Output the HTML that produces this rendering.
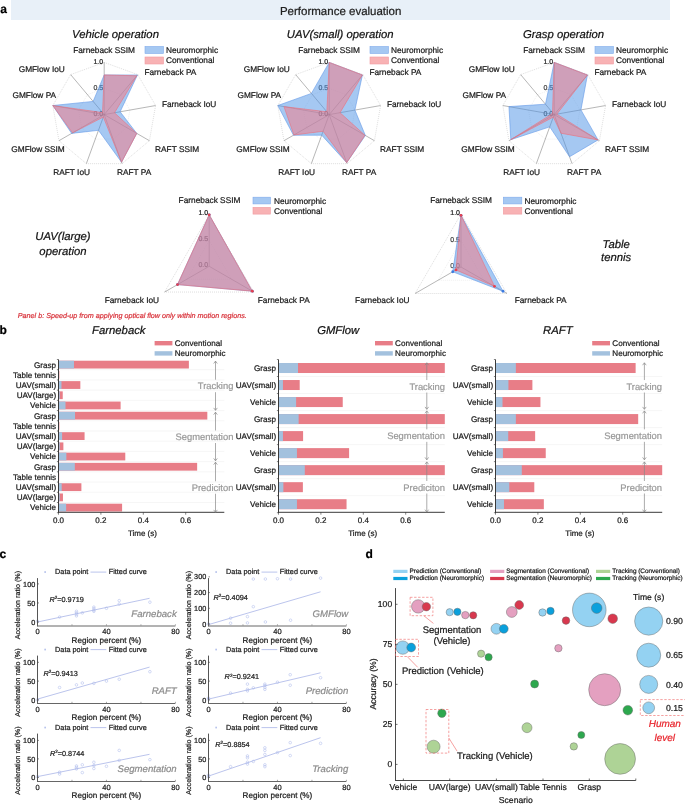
<!DOCTYPE html>
<html><head><meta charset="utf-8"><style>
html,body{margin:0;padding:0;background:#fff;}
svg{display:block;font-family:"Liberation Sans", sans-serif;will-change:transform;-webkit-font-smoothing:antialiased;text-rendering:geometricPrecision;}
</style></head><body>
<svg width="685" height="804" viewBox="0 0 685 804">
<rect x="11.00" y="0.00" width="659.00" height="20.00" fill="#E8F0F8" />
<text x="0.20" y="12.60" font-size="12" text-anchor="start" fill="#000" stroke="#000" stroke-width="0.22" font-weight="bold" >a</text>
<text x="340.70" y="14.50" font-size="11.5" text-anchor="middle" fill="#222" stroke="#222" stroke-width="0.22" >Performance evaluation</text>
<text x="115.50" y="37.50" font-size="11.3" text-anchor="middle" fill="#111" stroke="#111" stroke-width="0.22" font-style="italic" >Vehicle operation</text>
<polygon points="104.20,62.40 137.75,74.61 155.61,105.54 149.41,140.70 122.05,163.65 86.35,163.65 58.99,140.70 52.79,105.54 70.65,74.61" fill="none" stroke="#c8c8c8" stroke-width="0.6" stroke-dasharray="1,1"/>
<polygon points="104.20,88.50 120.98,94.61 129.90,110.07 126.80,127.65 113.13,139.13 95.27,139.13 81.60,127.65 78.50,110.07 87.42,94.61" fill="none" stroke="#dcdcdc" stroke-width="0.5" stroke-dasharray="1,1"/>
<line x1="104.20" y1="114.60" x2="104.20" y2="62.40" stroke="#6e6e6e" stroke-width="0.5" />
<line x1="104.20" y1="114.60" x2="137.75" y2="74.61" stroke="#6e6e6e" stroke-width="0.5" />
<line x1="104.20" y1="114.60" x2="155.61" y2="105.54" stroke="#6e6e6e" stroke-width="0.5" />
<line x1="104.20" y1="114.60" x2="149.41" y2="140.70" stroke="#6e6e6e" stroke-width="0.5" />
<line x1="104.20" y1="114.60" x2="122.05" y2="163.65" stroke="#6e6e6e" stroke-width="0.5" />
<line x1="104.20" y1="114.60" x2="86.35" y2="163.65" stroke="#6e6e6e" stroke-width="0.5" />
<line x1="104.20" y1="114.60" x2="58.99" y2="140.70" stroke="#6e6e6e" stroke-width="0.5" />
<line x1="104.20" y1="114.60" x2="52.79" y2="105.54" stroke="#6e6e6e" stroke-width="0.5" />
<line x1="104.20" y1="114.60" x2="70.65" y2="74.61" stroke="#6e6e6e" stroke-width="0.5" />
<text x="103.20" y="64.20" font-size="7" text-anchor="end" fill="#222" stroke="#222" stroke-width="0.22" >1.0</text>
<text x="103.20" y="90.30" font-size="7" text-anchor="end" fill="#444" stroke="#444" stroke-width="0.22" >0.5</text>
<text x="103.20" y="116.40" font-size="7" text-anchor="end" fill="#555" stroke="#555" stroke-width="0.22" >0.0</text>
<polygon points="104.20,74.93 137.42,75.01 120.14,111.79 136.75,133.39 121.52,162.18 98.49,130.30 71.65,133.39 52.79,105.54 93.13,101.40" fill="rgba(75,145,229,0.5)" stroke="#6398E8" stroke-width="0.6" stroke-linejoin="miter"/>
<polygon points="104.20,74.93 136.75,75.81 114.48,112.79 136.75,133.39 121.52,162.18 103.31,117.05 72.56,132.87 52.79,105.54 102.52,112.60" fill="rgba(250,120,130,0.5)" stroke="#EC6F7A" stroke-width="0.6" stroke-linejoin="miter"/>
<text x="104.10" y="52.60" font-size="8.3" text-anchor="middle" fill="#1a1a1a" stroke="#1a1a1a" stroke-width="0.22" >Farneback SSIM</text>
<text x="144.40" y="75.20" font-size="8.3" text-anchor="start" fill="#1a1a1a" stroke="#1a1a1a" stroke-width="0.22" >Farneback PA</text>
<text x="161.90" y="107.10" font-size="8.3" text-anchor="start" fill="#1a1a1a" stroke="#1a1a1a" stroke-width="0.22" >Farneback IoU</text>
<text x="155.10" y="152.40" font-size="8.3" text-anchor="start" fill="#1a1a1a" stroke="#1a1a1a" stroke-width="0.22" >RAFT SSIM</text>
<text x="116.90" y="175.30" font-size="8.3" text-anchor="start" fill="#1a1a1a" stroke="#1a1a1a" stroke-width="0.22" >RAFT PA</text>
<text x="90.00" y="175.30" font-size="8.3" text-anchor="end" fill="#1a1a1a" stroke="#1a1a1a" stroke-width="0.22" >RAFT IoU</text>
<text x="64.80" y="152.40" font-size="8.3" text-anchor="end" fill="#1a1a1a" stroke="#1a1a1a" stroke-width="0.22" >GMFlow SSIM</text>
<text x="56.10" y="98.00" font-size="8.3" text-anchor="end" fill="#1a1a1a" stroke="#1a1a1a" stroke-width="0.22" >GMFlow PA</text>
<text x="64.80" y="72.00" font-size="8.3" text-anchor="end" fill="#1a1a1a" stroke="#1a1a1a" stroke-width="0.22" >GMFlow IoU</text>
<rect x="145.00" y="46.50" width="18.50" height="7.00" fill="#A5C8F2" stroke="#7FAAEC" stroke-width="0.6"/>
<rect x="145.00" y="57.00" width="18.50" height="7.00" fill="#F8B2B4" stroke="#F09AA0" stroke-width="0.6"/>
<text x="166.00" y="52.80" font-size="8.3" text-anchor="start" fill="#1a1a1a" stroke="#1a1a1a" stroke-width="0.22" >Neuromorphic</text>
<text x="166.00" y="63.30" font-size="8.3" text-anchor="start" fill="#1a1a1a" stroke="#1a1a1a" stroke-width="0.22" >Conventional</text>
<text x="340.20" y="37.50" font-size="11.3" text-anchor="middle" fill="#111" stroke="#111" stroke-width="0.22" font-style="italic" >UAV(small) operation</text>
<polygon points="329.20,62.40 362.75,74.61 380.61,105.54 374.41,140.70 347.05,163.65 311.35,163.65 283.99,140.70 277.79,105.54 295.65,74.61" fill="none" stroke="#c8c8c8" stroke-width="0.6" stroke-dasharray="1,1"/>
<polygon points="329.20,88.50 345.98,94.61 354.90,110.07 351.80,127.65 338.13,139.13 320.27,139.13 306.60,127.65 303.50,110.07 312.42,94.61" fill="none" stroke="#dcdcdc" stroke-width="0.5" stroke-dasharray="1,1"/>
<line x1="329.20" y1="114.60" x2="329.20" y2="62.40" stroke="#6e6e6e" stroke-width="0.5" />
<line x1="329.20" y1="114.60" x2="362.75" y2="74.61" stroke="#6e6e6e" stroke-width="0.5" />
<line x1="329.20" y1="114.60" x2="380.61" y2="105.54" stroke="#6e6e6e" stroke-width="0.5" />
<line x1="329.20" y1="114.60" x2="374.41" y2="140.70" stroke="#6e6e6e" stroke-width="0.5" />
<line x1="329.20" y1="114.60" x2="347.05" y2="163.65" stroke="#6e6e6e" stroke-width="0.5" />
<line x1="329.20" y1="114.60" x2="311.35" y2="163.65" stroke="#6e6e6e" stroke-width="0.5" />
<line x1="329.20" y1="114.60" x2="283.99" y2="140.70" stroke="#6e6e6e" stroke-width="0.5" />
<line x1="329.20" y1="114.60" x2="277.79" y2="105.54" stroke="#6e6e6e" stroke-width="0.5" />
<line x1="329.20" y1="114.60" x2="295.65" y2="74.61" stroke="#6e6e6e" stroke-width="0.5" />
<text x="328.20" y="64.20" font-size="7" text-anchor="end" fill="#222" stroke="#222" stroke-width="0.22" >1.0</text>
<text x="328.20" y="90.30" font-size="7" text-anchor="end" fill="#444" stroke="#444" stroke-width="0.22" >0.5</text>
<text x="328.20" y="116.40" font-size="7" text-anchor="end" fill="#555" stroke="#555" stroke-width="0.22" >0.0</text>
<polygon points="329.20,62.40 362.42,75.01 354.90,110.07 365.37,135.48 346.70,162.67 321.70,135.20 293.49,135.22 277.79,105.54 311.42,93.41" fill="rgba(75,145,229,0.5)" stroke="#6398E8" stroke-width="0.6" stroke-linejoin="miter"/>
<polygon points="329.20,62.40 362.42,75.01 340.00,112.70 364.91,135.22 346.70,162.67 323.13,131.28 293.94,134.96 283.96,106.62 326.85,111.80" fill="rgba(250,120,130,0.5)" stroke="#EC6F7A" stroke-width="0.6" stroke-linejoin="miter"/>
<text x="329.10" y="52.60" font-size="8.3" text-anchor="middle" fill="#1a1a1a" stroke="#1a1a1a" stroke-width="0.22" >Farneback SSIM</text>
<text x="369.40" y="75.20" font-size="8.3" text-anchor="start" fill="#1a1a1a" stroke="#1a1a1a" stroke-width="0.22" >Farneback PA</text>
<text x="386.90" y="107.10" font-size="8.3" text-anchor="start" fill="#1a1a1a" stroke="#1a1a1a" stroke-width="0.22" >Farneback IoU</text>
<text x="380.10" y="152.40" font-size="8.3" text-anchor="start" fill="#1a1a1a" stroke="#1a1a1a" stroke-width="0.22" >RAFT SSIM</text>
<text x="341.90" y="175.30" font-size="8.3" text-anchor="start" fill="#1a1a1a" stroke="#1a1a1a" stroke-width="0.22" >RAFT PA</text>
<text x="315.00" y="175.30" font-size="8.3" text-anchor="end" fill="#1a1a1a" stroke="#1a1a1a" stroke-width="0.22" >RAFT IoU</text>
<text x="289.80" y="152.40" font-size="8.3" text-anchor="end" fill="#1a1a1a" stroke="#1a1a1a" stroke-width="0.22" >GMFlow SSIM</text>
<text x="281.10" y="98.00" font-size="8.3" text-anchor="end" fill="#1a1a1a" stroke="#1a1a1a" stroke-width="0.22" >GMFlow PA</text>
<text x="289.80" y="72.00" font-size="8.3" text-anchor="end" fill="#1a1a1a" stroke="#1a1a1a" stroke-width="0.22" >GMFlow IoU</text>
<rect x="370.00" y="46.50" width="18.50" height="7.00" fill="#A5C8F2" stroke="#7FAAEC" stroke-width="0.6"/>
<rect x="370.00" y="57.00" width="18.50" height="7.00" fill="#F8B2B4" stroke="#F09AA0" stroke-width="0.6"/>
<text x="391.00" y="52.80" font-size="8.3" text-anchor="start" fill="#1a1a1a" stroke="#1a1a1a" stroke-width="0.22" >Neuromorphic</text>
<text x="391.00" y="63.30" font-size="8.3" text-anchor="start" fill="#1a1a1a" stroke="#1a1a1a" stroke-width="0.22" >Conventional</text>
<text x="563.50" y="37.50" font-size="11.3" text-anchor="middle" fill="#111" stroke="#111" stroke-width="0.22" font-style="italic" >Grasp operation</text>
<polygon points="554.20,62.40 587.75,74.61 605.61,105.54 599.41,140.70 572.05,163.65 536.35,163.65 508.99,140.70 502.79,105.54 520.65,74.61" fill="none" stroke="#c8c8c8" stroke-width="0.6" stroke-dasharray="1,1"/>
<polygon points="554.20,88.50 570.98,94.61 579.90,110.07 576.80,127.65 563.13,139.13 545.27,139.13 531.60,127.65 528.50,110.07 537.42,94.61" fill="none" stroke="#dcdcdc" stroke-width="0.5" stroke-dasharray="1,1"/>
<line x1="554.20" y1="114.60" x2="554.20" y2="62.40" stroke="#6e6e6e" stroke-width="0.5" />
<line x1="554.20" y1="114.60" x2="587.75" y2="74.61" stroke="#6e6e6e" stroke-width="0.5" />
<line x1="554.20" y1="114.60" x2="605.61" y2="105.54" stroke="#6e6e6e" stroke-width="0.5" />
<line x1="554.20" y1="114.60" x2="599.41" y2="140.70" stroke="#6e6e6e" stroke-width="0.5" />
<line x1="554.20" y1="114.60" x2="572.05" y2="163.65" stroke="#6e6e6e" stroke-width="0.5" />
<line x1="554.20" y1="114.60" x2="536.35" y2="163.65" stroke="#6e6e6e" stroke-width="0.5" />
<line x1="554.20" y1="114.60" x2="508.99" y2="140.70" stroke="#6e6e6e" stroke-width="0.5" />
<line x1="554.20" y1="114.60" x2="502.79" y2="105.54" stroke="#6e6e6e" stroke-width="0.5" />
<line x1="554.20" y1="114.60" x2="520.65" y2="74.61" stroke="#6e6e6e" stroke-width="0.5" />
<text x="553.20" y="64.20" font-size="7" text-anchor="end" fill="#222" stroke="#222" stroke-width="0.22" >1.0</text>
<text x="553.20" y="90.30" font-size="7" text-anchor="end" fill="#444" stroke="#444" stroke-width="0.22" >0.5</text>
<text x="553.20" y="116.40" font-size="7" text-anchor="end" fill="#555" stroke="#555" stroke-width="0.22" >0.0</text>
<polygon points="554.20,62.40 587.42,75.01 580.93,109.89 598.05,139.92 569.55,156.78 549.74,126.86 510.80,139.66 508.96,106.62 545.48,104.20" fill="rgba(75,145,229,0.5)" stroke="#6398E8" stroke-width="0.6" stroke-linejoin="miter"/>
<polygon points="554.20,62.40 587.42,75.01 556.77,114.15 598.05,139.92 560.98,133.24 553.31,117.05 510.80,139.66 551.63,114.15 552.52,112.60" fill="rgba(250,120,130,0.5)" stroke="#EC6F7A" stroke-width="0.6" stroke-linejoin="miter"/>
<text x="554.10" y="52.60" font-size="8.3" text-anchor="middle" fill="#1a1a1a" stroke="#1a1a1a" stroke-width="0.22" >Farneback SSIM</text>
<text x="594.40" y="75.20" font-size="8.3" text-anchor="start" fill="#1a1a1a" stroke="#1a1a1a" stroke-width="0.22" >Farneback PA</text>
<text x="611.90" y="107.10" font-size="8.3" text-anchor="start" fill="#1a1a1a" stroke="#1a1a1a" stroke-width="0.22" >Farneback IoU</text>
<text x="605.10" y="152.40" font-size="8.3" text-anchor="start" fill="#1a1a1a" stroke="#1a1a1a" stroke-width="0.22" >RAFT SSIM</text>
<text x="566.90" y="175.30" font-size="8.3" text-anchor="start" fill="#1a1a1a" stroke="#1a1a1a" stroke-width="0.22" >RAFT PA</text>
<text x="540.00" y="175.30" font-size="8.3" text-anchor="end" fill="#1a1a1a" stroke="#1a1a1a" stroke-width="0.22" >RAFT IoU</text>
<text x="514.80" y="152.40" font-size="8.3" text-anchor="end" fill="#1a1a1a" stroke="#1a1a1a" stroke-width="0.22" >GMFlow SSIM</text>
<text x="506.10" y="98.00" font-size="8.3" text-anchor="end" fill="#1a1a1a" stroke="#1a1a1a" stroke-width="0.22" >GMFlow PA</text>
<text x="514.80" y="72.00" font-size="8.3" text-anchor="end" fill="#1a1a1a" stroke="#1a1a1a" stroke-width="0.22" >GMFlow IoU</text>
<rect x="595.00" y="46.50" width="18.50" height="7.00" fill="#A5C8F2" stroke="#7FAAEC" stroke-width="0.6"/>
<rect x="595.00" y="57.00" width="18.50" height="7.00" fill="#F8B2B4" stroke="#F09AA0" stroke-width="0.6"/>
<text x="616.00" y="52.80" font-size="8.3" text-anchor="start" fill="#1a1a1a" stroke="#1a1a1a" stroke-width="0.22" >Neuromorphic</text>
<text x="616.00" y="63.30" font-size="8.3" text-anchor="start" fill="#1a1a1a" stroke="#1a1a1a" stroke-width="0.22" >Conventional</text>
<polygon points="209.20,214.80 253.80,292.05 164.60,292.05" fill="none" stroke="#c8c8c8" stroke-width="0.6" stroke-dasharray="1,1"/>
<polygon points="209.20,240.55 231.50,279.18 186.90,279.18" fill="none" stroke="#dcdcdc" stroke-width="0.5" stroke-dasharray="1,1"/>
<line x1="209.20" y1="266.30" x2="209.20" y2="214.80" stroke="#6e6e6e" stroke-width="0.5" />
<line x1="209.20" y1="266.30" x2="253.80" y2="292.05" stroke="#6e6e6e" stroke-width="0.5" />
<line x1="209.20" y1="266.30" x2="164.60" y2="292.05" stroke="#6e6e6e" stroke-width="0.5" />
<text x="208.20" y="215.40" font-size="7" text-anchor="end" fill="#222" stroke="#222" stroke-width="0.22" >1.0</text>
<text x="208.20" y="241.15" font-size="7" text-anchor="end" fill="#444" stroke="#444" stroke-width="0.22" >0.5</text>
<text x="208.20" y="266.90" font-size="7" text-anchor="end" fill="#555" stroke="#555" stroke-width="0.22" >0.0</text>
<polygon points="209.20,214.80 252.28,291.17 177.53,284.58" fill="rgba(75,145,229,0.5)" stroke="#6398E8" stroke-width="0.6" stroke-linejoin="miter"/>
<polygon points="209.20,214.80 252.28,291.17 177.53,284.58" fill="rgba(250,120,130,0.5)" stroke="#EC6F7A" stroke-width="0.6" stroke-linejoin="miter"/>
<circle cx="209.20" cy="214.80" r="1.4" fill="#3D7BE0"/>
<circle cx="252.28" cy="291.17" r="1.4" fill="#3D7BE0"/>
<circle cx="177.53" cy="284.58" r="1.4" fill="#3D7BE0"/>
<circle cx="209.20" cy="214.80" r="1.4" fill="#E8404E"/>
<circle cx="252.28" cy="291.17" r="1.4" fill="#E8404E"/>
<circle cx="177.53" cy="284.58" r="1.4" fill="#E8404E"/>
<text x="209.50" y="202.70" font-size="8.3" text-anchor="middle" fill="#1a1a1a" stroke="#1a1a1a" stroke-width="0.22" >Farneback SSIM</text>
<text x="257.80" y="302.80" font-size="8.3" text-anchor="start" fill="#1a1a1a" stroke="#1a1a1a" stroke-width="0.22" >Farneback PA</text>
<text x="159.10" y="302.80" font-size="8.3" text-anchor="end" fill="#1a1a1a" stroke="#1a1a1a" stroke-width="0.22" >Farneback IoU</text>
<rect x="253.00" y="197.20" width="17.40" height="6.70" fill="#A5C8F2" stroke="#7FAAEC" stroke-width="0.6"/>
<rect x="253.00" y="207.40" width="17.40" height="6.70" fill="#F8B2B4" stroke="#F09AA0" stroke-width="0.6"/>
<text x="274.00" y="203.50" font-size="8.3" text-anchor="start" fill="#1a1a1a" stroke="#1a1a1a" stroke-width="0.22" >Neuromorphic</text>
<text x="274.00" y="213.70" font-size="8.3" text-anchor="start" fill="#1a1a1a" stroke="#1a1a1a" stroke-width="0.22" >Conventional</text>
<text x="62.90" y="240.40" font-size="11.3" text-anchor="middle" fill="#111" stroke="#111" stroke-width="0.22" font-style="italic" >UAV(large)</text>
<text x="62.90" y="254.50" font-size="11.3" text-anchor="middle" fill="#111" stroke="#111" stroke-width="0.22" font-style="italic" >operation</text>
<polygon points="461.00,214.00 506.90,293.50 415.10,293.50" fill="none" stroke="#c8c8c8" stroke-width="0.6" stroke-dasharray="1,1"/>
<polygon points="461.00,240.50 483.95,280.25 438.05,280.25" fill="none" stroke="#dcdcdc" stroke-width="0.5" stroke-dasharray="1,1"/>
<line x1="461.00" y1="267.00" x2="461.00" y2="214.00" stroke="#6e6e6e" stroke-width="0.5" />
<line x1="461.00" y1="267.00" x2="506.90" y2="293.50" stroke="#6e6e6e" stroke-width="0.5" />
<line x1="461.00" y1="267.00" x2="415.10" y2="293.50" stroke="#6e6e6e" stroke-width="0.5" />
<text x="460.00" y="215.00" font-size="7" text-anchor="end" fill="#222" stroke="#222" stroke-width="0.22" >1.0</text>
<text x="460.00" y="241.50" font-size="7" text-anchor="end" fill="#444" stroke="#444" stroke-width="0.22" >0.5</text>
<text x="460.00" y="268.00" font-size="7" text-anchor="end" fill="#555" stroke="#555" stroke-width="0.22" >0.0</text>
<polygon points="461.00,215.32 503.00,291.25 452.74,271.77" fill="rgba(75,145,229,0.5)" stroke="#6398E8" stroke-width="0.6" stroke-linejoin="miter"/>
<polygon points="461.00,215.32 494.51,286.34 455.95,269.92" fill="rgba(250,120,130,0.5)" stroke="#EC6F7A" stroke-width="0.6" stroke-linejoin="miter"/>
<circle cx="461.00" cy="215.32" r="1.4" fill="#3D7BE0"/>
<circle cx="503.00" cy="291.25" r="1.4" fill="#3D7BE0"/>
<circle cx="452.74" cy="271.77" r="1.4" fill="#3D7BE0"/>
<circle cx="461.00" cy="215.32" r="1.4" fill="#E8404E"/>
<circle cx="494.51" cy="286.34" r="1.4" fill="#E8404E"/>
<circle cx="455.95" cy="269.92" r="1.4" fill="#E8404E"/>
<text x="461.10" y="202.70" font-size="8.3" text-anchor="middle" fill="#1a1a1a" stroke="#1a1a1a" stroke-width="0.22" >Farneback SSIM</text>
<text x="514.70" y="302.80" font-size="8.3" text-anchor="start" fill="#1a1a1a" stroke="#1a1a1a" stroke-width="0.22" >Farneback PA</text>
<text x="409.50" y="302.80" font-size="8.3" text-anchor="end" fill="#1a1a1a" stroke="#1a1a1a" stroke-width="0.22" >Farneback IoU</text>
<rect x="503.40" y="197.20" width="18.40" height="6.70" fill="#A5C8F2" stroke="#7FAAEC" stroke-width="0.6"/>
<rect x="503.40" y="207.40" width="18.40" height="6.70" fill="#F8B2B4" stroke="#F09AA0" stroke-width="0.6"/>
<text x="524.40" y="203.50" font-size="8.3" text-anchor="start" fill="#1a1a1a" stroke="#1a1a1a" stroke-width="0.22" >Neuromorphic</text>
<text x="524.40" y="213.70" font-size="8.3" text-anchor="start" fill="#1a1a1a" stroke="#1a1a1a" stroke-width="0.22" >Conventional</text>
<text x="616.20" y="247.60" font-size="11.3" text-anchor="middle" fill="#111" stroke="#111" stroke-width="0.22" font-style="italic" >Table</text>
<text x="616.20" y="261.20" font-size="11.3" text-anchor="middle" fill="#111" stroke="#111" stroke-width="0.22" font-style="italic" >tennis</text>
<text x="17.80" y="318.20" font-size="7.2" text-anchor="start" fill="#D9363E" stroke="#D9363E" stroke-width="0.22" font-style="italic" >Panel b: Speed-up from applying optical flow only within motion regions.</text>
<text x="-0.60" y="334.40" font-size="12" text-anchor="start" fill="#000" stroke="#000" stroke-width="0.22" font-weight="bold" >b</text>
<text x="118.80" y="334.20" font-size="11.3" text-anchor="middle" fill="#111" stroke="#111" stroke-width="0.22" font-style="italic" >Farneback</text>
<rect x="154.60" y="341.00" width="17.80" height="4.40" fill="#E87D87" />
<rect x="154.60" y="351.20" width="17.80" height="4.40" fill="#A3C1DE" />
<text x="174.70" y="345.90" font-size="8.1" text-anchor="start" fill="#1a1a1a" stroke="#1a1a1a" stroke-width="0.22" >Conventional</text>
<text x="174.70" y="356.10" font-size="8.1" text-anchor="start" fill="#1a1a1a" stroke="#1a1a1a" stroke-width="0.22" >Neuromorphic</text>
<line x1="58.50" y1="369.71" x2="224.30" y2="369.71" stroke="#f0f0f0" stroke-width="0.6" />
<line x1="58.50" y1="379.93" x2="224.30" y2="379.93" stroke="#f0f0f0" stroke-width="0.6" />
<line x1="58.50" y1="390.14" x2="224.30" y2="390.14" stroke="#f0f0f0" stroke-width="0.6" />
<line x1="58.50" y1="400.35" x2="224.30" y2="400.35" stroke="#f0f0f0" stroke-width="0.6" />
<line x1="58.50" y1="410.57" x2="224.30" y2="410.57" stroke="#f0f0f0" stroke-width="0.6" />
<line x1="58.50" y1="420.78" x2="224.30" y2="420.78" stroke="#f0f0f0" stroke-width="0.6" />
<line x1="58.50" y1="430.99" x2="224.30" y2="430.99" stroke="#f0f0f0" stroke-width="0.6" />
<line x1="58.50" y1="441.21" x2="224.30" y2="441.21" stroke="#f0f0f0" stroke-width="0.6" />
<line x1="58.50" y1="451.42" x2="224.30" y2="451.42" stroke="#f0f0f0" stroke-width="0.6" />
<line x1="58.50" y1="461.63" x2="224.30" y2="461.63" stroke="#f0f0f0" stroke-width="0.6" />
<line x1="58.50" y1="471.85" x2="224.30" y2="471.85" stroke="#f0f0f0" stroke-width="0.6" />
<line x1="58.50" y1="482.06" x2="224.30" y2="482.06" stroke="#f0f0f0" stroke-width="0.6" />
<line x1="58.50" y1="492.27" x2="224.30" y2="492.27" stroke="#f0f0f0" stroke-width="0.6" />
<line x1="58.50" y1="502.49" x2="224.30" y2="502.49" stroke="#f0f0f0" stroke-width="0.6" />
<text x="56.10" y="367.51" font-size="8.1" text-anchor="end" fill="#1a1a1a" stroke="#1a1a1a" stroke-width="0.22" >Grasp</text>
<rect x="58.50" y="360.71" width="130.38" height="7.80" fill="#E87D87" />
<rect x="58.50" y="360.71" width="15.48" height="7.80" fill="#A3C1DE" />
<line x1="56.90" y1="359.50" x2="58.50" y2="359.50" stroke="#333" stroke-width="0.6" />
<text x="56.10" y="377.72" font-size="8.1" text-anchor="end" fill="#1a1a1a" stroke="#1a1a1a" stroke-width="0.22" >Table tennis</text>
<rect x="58.50" y="370.92" width="0.85" height="7.80" fill="#E87D87" />
<line x1="56.90" y1="369.71" x2="58.50" y2="369.71" stroke="#333" stroke-width="0.6" />
<text x="56.10" y="387.93" font-size="8.1" text-anchor="end" fill="#1a1a1a" stroke="#1a1a1a" stroke-width="0.22" >UAV(small)</text>
<rect x="58.50" y="381.13" width="21.84" height="7.80" fill="#E87D87" />
<rect x="58.50" y="381.13" width="2.97" height="7.80" fill="#A3C1DE" />
<line x1="56.90" y1="379.93" x2="58.50" y2="379.93" stroke="#333" stroke-width="0.6" />
<text x="56.10" y="398.15" font-size="8.1" text-anchor="end" fill="#1a1a1a" stroke="#1a1a1a" stroke-width="0.22" >UAV(large)</text>
<rect x="58.50" y="391.35" width="4.24" height="7.80" fill="#E87D87" />
<rect x="58.50" y="391.35" width="1.27" height="7.80" fill="#A3C1DE" />
<line x1="56.90" y1="390.14" x2="58.50" y2="390.14" stroke="#333" stroke-width="0.6" />
<text x="56.10" y="408.36" font-size="8.1" text-anchor="end" fill="#1a1a1a" stroke="#1a1a1a" stroke-width="0.22" >Vehicle</text>
<rect x="58.50" y="401.56" width="62.12" height="7.80" fill="#E87D87" />
<rect x="58.50" y="401.56" width="7.00" height="7.80" fill="#A3C1DE" />
<line x1="56.90" y1="400.35" x2="58.50" y2="400.35" stroke="#333" stroke-width="0.6" />
<text x="56.10" y="418.57" font-size="8.1" text-anchor="end" fill="#1a1a1a" stroke="#1a1a1a" stroke-width="0.22" >Grasp</text>
<rect x="58.50" y="411.77" width="148.82" height="7.80" fill="#E87D87" />
<rect x="58.50" y="411.77" width="16.54" height="7.80" fill="#A3C1DE" />
<line x1="56.90" y1="410.57" x2="58.50" y2="410.57" stroke="#333" stroke-width="0.6" />
<text x="56.10" y="428.79" font-size="8.1" text-anchor="end" fill="#1a1a1a" stroke="#1a1a1a" stroke-width="0.22" >Table tennis</text>
<rect x="58.50" y="421.99" width="0.85" height="7.80" fill="#E87D87" />
<line x1="56.90" y1="420.78" x2="58.50" y2="420.78" stroke="#333" stroke-width="0.6" />
<text x="56.10" y="439.00" font-size="8.1" text-anchor="end" fill="#1a1a1a" stroke="#1a1a1a" stroke-width="0.22" >UAV(small)</text>
<rect x="58.50" y="432.20" width="26.08" height="7.80" fill="#E87D87" />
<rect x="58.50" y="432.20" width="3.60" height="7.80" fill="#A3C1DE" />
<line x1="56.90" y1="430.99" x2="58.50" y2="430.99" stroke="#333" stroke-width="0.6" />
<text x="56.10" y="449.21" font-size="8.1" text-anchor="end" fill="#1a1a1a" stroke="#1a1a1a" stroke-width="0.22" >UAV(large)</text>
<rect x="58.50" y="442.41" width="4.88" height="7.80" fill="#E87D87" />
<rect x="58.50" y="442.41" width="1.27" height="7.80" fill="#A3C1DE" />
<line x1="56.90" y1="441.21" x2="58.50" y2="441.21" stroke="#333" stroke-width="0.6" />
<text x="56.10" y="459.43" font-size="8.1" text-anchor="end" fill="#1a1a1a" stroke="#1a1a1a" stroke-width="0.22" >Vehicle</text>
<rect x="58.50" y="452.63" width="66.78" height="7.80" fill="#E87D87" />
<rect x="58.50" y="452.63" width="7.84" height="7.80" fill="#A3C1DE" />
<line x1="56.90" y1="451.42" x2="58.50" y2="451.42" stroke="#333" stroke-width="0.6" />
<text x="56.10" y="469.64" font-size="8.1" text-anchor="end" fill="#1a1a1a" stroke="#1a1a1a" stroke-width="0.22" >Grasp</text>
<rect x="58.50" y="462.84" width="138.65" height="7.80" fill="#E87D87" />
<rect x="58.50" y="462.84" width="16.32" height="7.80" fill="#A3C1DE" />
<line x1="56.90" y1="461.63" x2="58.50" y2="461.63" stroke="#333" stroke-width="0.6" />
<text x="56.10" y="479.85" font-size="8.1" text-anchor="end" fill="#1a1a1a" stroke="#1a1a1a" stroke-width="0.22" >Table tennis</text>
<rect x="58.50" y="473.05" width="0.64" height="7.80" fill="#E87D87" />
<line x1="56.90" y1="471.85" x2="58.50" y2="471.85" stroke="#333" stroke-width="0.6" />
<text x="56.10" y="490.07" font-size="8.1" text-anchor="end" fill="#1a1a1a" stroke="#1a1a1a" stroke-width="0.22" >UAV(small)</text>
<rect x="58.50" y="483.27" width="22.90" height="7.80" fill="#E87D87" />
<rect x="58.50" y="483.27" width="3.18" height="7.80" fill="#A3C1DE" />
<line x1="56.90" y1="482.06" x2="58.50" y2="482.06" stroke="#333" stroke-width="0.6" />
<text x="56.10" y="500.28" font-size="8.1" text-anchor="end" fill="#1a1a1a" stroke="#1a1a1a" stroke-width="0.22" >UAV(large)</text>
<rect x="58.50" y="493.48" width="4.45" height="7.80" fill="#E87D87" />
<rect x="58.50" y="493.48" width="1.27" height="7.80" fill="#A3C1DE" />
<line x1="56.90" y1="492.27" x2="58.50" y2="492.27" stroke="#333" stroke-width="0.6" />
<text x="56.10" y="510.49" font-size="8.1" text-anchor="end" fill="#1a1a1a" stroke="#1a1a1a" stroke-width="0.22" >Vehicle</text>
<rect x="58.50" y="503.69" width="63.60" height="7.80" fill="#E87D87" />
<rect x="58.50" y="503.69" width="7.63" height="7.80" fill="#A3C1DE" />
<line x1="56.90" y1="502.49" x2="58.50" y2="502.49" stroke="#333" stroke-width="0.6" />
<line x1="56.90" y1="512.70" x2="58.50" y2="512.70" stroke="#333" stroke-width="0.6" />
<line x1="58.50" y1="359.50" x2="58.50" y2="512.80" stroke="#3a3a3a" stroke-width="1.0" />
<line x1="58.00" y1="512.30" x2="224.30" y2="512.30" stroke="#3a3a3a" stroke-width="1.0" />
<line x1="58.50" y1="512.30" x2="58.50" y2="514.70" stroke="#333" stroke-width="0.6" />
<text x="58.50" y="522.60" font-size="8" text-anchor="middle" fill="#1a1a1a" stroke="#1a1a1a" stroke-width="0.22" >0.0</text>
<line x1="100.90" y1="512.30" x2="100.90" y2="514.70" stroke="#333" stroke-width="0.6" />
<text x="100.90" y="522.60" font-size="8" text-anchor="middle" fill="#1a1a1a" stroke="#1a1a1a" stroke-width="0.22" >0.2</text>
<line x1="143.30" y1="512.30" x2="143.30" y2="514.70" stroke="#333" stroke-width="0.6" />
<text x="143.30" y="522.60" font-size="8" text-anchor="middle" fill="#1a1a1a" stroke="#1a1a1a" stroke-width="0.22" >0.4</text>
<line x1="185.70" y1="512.30" x2="185.70" y2="514.70" stroke="#333" stroke-width="0.6" />
<text x="185.70" y="522.60" font-size="8" text-anchor="middle" fill="#1a1a1a" stroke="#1a1a1a" stroke-width="0.22" >0.6</text>
<text x="142.40" y="535.50" font-size="8" text-anchor="middle" fill="#1a1a1a" stroke="#1a1a1a" stroke-width="0.22" >Time (s)</text>
<line x1="215.50" y1="361.10" x2="215.50" y2="379.70" stroke="#888" stroke-width="0.7" />
<line x1="215.50" y1="392.20" x2="215.50" y2="410.30" stroke="#888" stroke-width="0.7" />
<polyline points="213.70,363.50 215.50,361.10 217.30,363.50" fill="none" stroke="#888" stroke-width="0.7"/>
<polyline points="213.70,407.90 215.50,410.30 217.30,407.90" fill="none" stroke="#888" stroke-width="0.7"/>
<text x="233.40" y="389.40" font-size="9.4" text-anchor="end" fill="#9a9a9a" stroke="#9a9a9a" stroke-width="0.22" >Tracking</text>
<line x1="215.50" y1="412.20" x2="215.50" y2="430.50" stroke="#888" stroke-width="0.7" />
<line x1="215.50" y1="443.00" x2="215.50" y2="460.80" stroke="#888" stroke-width="0.7" />
<polyline points="213.70,414.60 215.50,412.20 217.30,414.60" fill="none" stroke="#888" stroke-width="0.7"/>
<polyline points="213.70,458.40 215.50,460.80 217.30,458.40" fill="none" stroke="#888" stroke-width="0.7"/>
<text x="233.40" y="440.20" font-size="9.4" text-anchor="end" fill="#9a9a9a" stroke="#9a9a9a" stroke-width="0.22" >Segmentation</text>
<line x1="215.50" y1="462.20" x2="215.50" y2="481.25" stroke="#888" stroke-width="0.7" />
<line x1="215.50" y1="493.75" x2="215.50" y2="512.30" stroke="#888" stroke-width="0.7" />
<polyline points="213.70,464.60 215.50,462.20 217.30,464.60" fill="none" stroke="#888" stroke-width="0.7"/>
<polyline points="213.70,509.90 215.50,512.30 217.30,509.90" fill="none" stroke="#888" stroke-width="0.7"/>
<text x="233.40" y="490.95" font-size="9.4" text-anchor="end" fill="#9a9a9a" stroke="#9a9a9a" stroke-width="0.22" >Prediciton</text>
<text x="338.20" y="334.20" font-size="11.3" text-anchor="middle" fill="#111" stroke="#111" stroke-width="0.22" font-style="italic" >GMFlow</text>
<rect x="375.00" y="341.00" width="17.80" height="4.40" fill="#E87D87" />
<rect x="375.00" y="351.20" width="17.80" height="4.40" fill="#A3C1DE" />
<text x="395.10" y="345.90" font-size="8.1" text-anchor="start" fill="#1a1a1a" stroke="#1a1a1a" stroke-width="0.22" >Conventional</text>
<text x="395.10" y="356.10" font-size="8.1" text-anchor="start" fill="#1a1a1a" stroke="#1a1a1a" stroke-width="0.22" >Neuromorphic</text>
<line x1="278.50" y1="376.52" x2="444.80" y2="376.52" stroke="#f0f0f0" stroke-width="0.6" />
<line x1="278.50" y1="393.54" x2="444.80" y2="393.54" stroke="#f0f0f0" stroke-width="0.6" />
<line x1="278.50" y1="410.57" x2="444.80" y2="410.57" stroke="#f0f0f0" stroke-width="0.6" />
<line x1="278.50" y1="427.59" x2="444.80" y2="427.59" stroke="#f0f0f0" stroke-width="0.6" />
<line x1="278.50" y1="444.61" x2="444.80" y2="444.61" stroke="#f0f0f0" stroke-width="0.6" />
<line x1="278.50" y1="461.63" x2="444.80" y2="461.63" stroke="#f0f0f0" stroke-width="0.6" />
<line x1="278.50" y1="478.66" x2="444.80" y2="478.66" stroke="#f0f0f0" stroke-width="0.6" />
<line x1="278.50" y1="495.68" x2="444.80" y2="495.68" stroke="#f0f0f0" stroke-width="0.6" />
<text x="276.10" y="370.91" font-size="8.1" text-anchor="end" fill="#1a1a1a" stroke="#1a1a1a" stroke-width="0.22" >Grasp</text>
<rect x="278.50" y="363.01" width="166.30" height="10.00" fill="#E87D87" />
<rect x="278.50" y="363.01" width="19.50" height="10.00" fill="#A3C1DE" />
<line x1="276.90" y1="359.50" x2="278.50" y2="359.50" stroke="#333" stroke-width="0.6" />
<text x="276.10" y="387.93" font-size="8.1" text-anchor="end" fill="#1a1a1a" stroke="#1a1a1a" stroke-width="0.22" >UAV(small)</text>
<rect x="278.50" y="380.03" width="21.20" height="10.00" fill="#E87D87" />
<rect x="278.50" y="380.03" width="4.45" height="10.00" fill="#A3C1DE" />
<line x1="276.90" y1="376.52" x2="278.50" y2="376.52" stroke="#333" stroke-width="0.6" />
<text x="276.10" y="404.96" font-size="8.1" text-anchor="end" fill="#1a1a1a" stroke="#1a1a1a" stroke-width="0.22" >Vehicle</text>
<rect x="278.50" y="397.06" width="64.24" height="10.00" fill="#E87D87" />
<rect x="278.50" y="397.06" width="17.60" height="10.00" fill="#A3C1DE" />
<line x1="276.90" y1="393.54" x2="278.50" y2="393.54" stroke="#333" stroke-width="0.6" />
<text x="276.10" y="421.98" font-size="8.1" text-anchor="end" fill="#1a1a1a" stroke="#1a1a1a" stroke-width="0.22" >Grasp</text>
<rect x="278.50" y="414.08" width="166.30" height="10.00" fill="#E87D87" />
<rect x="278.50" y="414.08" width="20.14" height="10.00" fill="#A3C1DE" />
<line x1="276.90" y1="410.57" x2="278.50" y2="410.57" stroke="#333" stroke-width="0.6" />
<text x="276.10" y="439.00" font-size="8.1" text-anchor="end" fill="#1a1a1a" stroke="#1a1a1a" stroke-width="0.22" >UAV(small)</text>
<rect x="278.50" y="431.10" width="24.59" height="10.00" fill="#E87D87" />
<rect x="278.50" y="431.10" width="4.45" height="10.00" fill="#A3C1DE" />
<line x1="276.90" y1="427.59" x2="278.50" y2="427.59" stroke="#333" stroke-width="0.6" />
<text x="276.10" y="456.02" font-size="8.1" text-anchor="end" fill="#1a1a1a" stroke="#1a1a1a" stroke-width="0.22" >Vehicle</text>
<rect x="278.50" y="448.12" width="70.60" height="10.00" fill="#E87D87" />
<rect x="278.50" y="448.12" width="18.44" height="10.00" fill="#A3C1DE" />
<line x1="276.90" y1="444.61" x2="278.50" y2="444.61" stroke="#333" stroke-width="0.6" />
<text x="276.10" y="473.04" font-size="8.1" text-anchor="end" fill="#1a1a1a" stroke="#1a1a1a" stroke-width="0.22" >Grasp</text>
<rect x="278.50" y="465.14" width="166.30" height="10.00" fill="#E87D87" />
<rect x="278.50" y="465.14" width="26.29" height="10.00" fill="#A3C1DE" />
<line x1="276.90" y1="461.63" x2="278.50" y2="461.63" stroke="#333" stroke-width="0.6" />
<text x="276.10" y="490.07" font-size="8.1" text-anchor="end" fill="#1a1a1a" stroke="#1a1a1a" stroke-width="0.22" >UAV(small)</text>
<rect x="278.50" y="482.17" width="24.38" height="10.00" fill="#E87D87" />
<rect x="278.50" y="482.17" width="4.88" height="10.00" fill="#A3C1DE" />
<line x1="276.90" y1="478.66" x2="278.50" y2="478.66" stroke="#333" stroke-width="0.6" />
<text x="276.10" y="507.09" font-size="8.1" text-anchor="end" fill="#1a1a1a" stroke="#1a1a1a" stroke-width="0.22" >Vehicle</text>
<rect x="278.50" y="499.19" width="68.05" height="10.00" fill="#E87D87" />
<rect x="278.50" y="499.19" width="18.44" height="10.00" fill="#A3C1DE" />
<line x1="276.90" y1="495.68" x2="278.50" y2="495.68" stroke="#333" stroke-width="0.6" />
<line x1="276.90" y1="512.70" x2="278.50" y2="512.70" stroke="#333" stroke-width="0.6" />
<line x1="278.50" y1="359.50" x2="278.50" y2="512.80" stroke="#3a3a3a" stroke-width="1.0" />
<line x1="278.00" y1="512.30" x2="444.80" y2="512.30" stroke="#3a3a3a" stroke-width="1.0" />
<line x1="278.50" y1="512.30" x2="278.50" y2="514.70" stroke="#333" stroke-width="0.6" />
<text x="278.50" y="522.60" font-size="8" text-anchor="middle" fill="#1a1a1a" stroke="#1a1a1a" stroke-width="0.22" >0.0</text>
<line x1="320.90" y1="512.30" x2="320.90" y2="514.70" stroke="#333" stroke-width="0.6" />
<text x="320.90" y="522.60" font-size="8" text-anchor="middle" fill="#1a1a1a" stroke="#1a1a1a" stroke-width="0.22" >0.2</text>
<line x1="363.30" y1="512.30" x2="363.30" y2="514.70" stroke="#333" stroke-width="0.6" />
<text x="363.30" y="522.60" font-size="8" text-anchor="middle" fill="#1a1a1a" stroke="#1a1a1a" stroke-width="0.22" >0.4</text>
<line x1="405.70" y1="512.30" x2="405.70" y2="514.70" stroke="#333" stroke-width="0.6" />
<text x="405.70" y="522.60" font-size="8" text-anchor="middle" fill="#1a1a1a" stroke="#1a1a1a" stroke-width="0.22" >0.6</text>
<text x="362.65" y="535.50" font-size="8" text-anchor="middle" fill="#1a1a1a" stroke="#1a1a1a" stroke-width="0.22" >Time (s)</text>
<line x1="426.80" y1="362.80" x2="426.80" y2="380.05" stroke="#888" stroke-width="0.7" />
<line x1="426.80" y1="392.55" x2="426.80" y2="409.30" stroke="#888" stroke-width="0.7" />
<polyline points="425.00,365.20 426.80,362.80 428.60,365.20" fill="none" stroke="#888" stroke-width="0.7"/>
<polyline points="425.00,406.90 426.80,409.30 428.60,406.90" fill="none" stroke="#888" stroke-width="0.7"/>
<text x="445.00" y="389.75" font-size="9.4" text-anchor="end" fill="#9a9a9a" stroke="#9a9a9a" stroke-width="0.22" >Tracking</text>
<line x1="426.80" y1="410.90" x2="426.80" y2="429.35" stroke="#888" stroke-width="0.7" />
<line x1="426.80" y1="441.85" x2="426.80" y2="459.80" stroke="#888" stroke-width="0.7" />
<polyline points="425.00,413.30 426.80,410.90 428.60,413.30" fill="none" stroke="#888" stroke-width="0.7"/>
<polyline points="425.00,457.40 426.80,459.80 428.60,457.40" fill="none" stroke="#888" stroke-width="0.7"/>
<text x="445.00" y="439.05" font-size="9.4" text-anchor="end" fill="#9a9a9a" stroke="#9a9a9a" stroke-width="0.22" >Segmentation</text>
<line x1="426.80" y1="461.90" x2="426.80" y2="481.00" stroke="#888" stroke-width="0.7" />
<line x1="426.80" y1="493.50" x2="426.80" y2="512.10" stroke="#888" stroke-width="0.7" />
<polyline points="425.00,464.30 426.80,461.90 428.60,464.30" fill="none" stroke="#888" stroke-width="0.7"/>
<polyline points="425.00,509.70 426.80,512.10 428.60,509.70" fill="none" stroke="#888" stroke-width="0.7"/>
<text x="445.00" y="490.70" font-size="9.4" text-anchor="end" fill="#9a9a9a" stroke="#9a9a9a" stroke-width="0.22" >Prediciton</text>
<text x="557.80" y="334.20" font-size="11.3" text-anchor="middle" fill="#111" stroke="#111" stroke-width="0.22" font-style="italic" >RAFT</text>
<rect x="592.20" y="341.00" width="17.80" height="4.40" fill="#E87D87" />
<rect x="592.20" y="351.20" width="17.80" height="4.40" fill="#A3C1DE" />
<text x="612.30" y="345.90" font-size="8.1" text-anchor="start" fill="#1a1a1a" stroke="#1a1a1a" stroke-width="0.22" >Conventional</text>
<text x="612.30" y="356.10" font-size="8.1" text-anchor="start" fill="#1a1a1a" stroke="#1a1a1a" stroke-width="0.22" >Neuromorphic</text>
<line x1="495.50" y1="376.52" x2="662.20" y2="376.52" stroke="#f0f0f0" stroke-width="0.6" />
<line x1="495.50" y1="393.54" x2="662.20" y2="393.54" stroke="#f0f0f0" stroke-width="0.6" />
<line x1="495.50" y1="410.57" x2="662.20" y2="410.57" stroke="#f0f0f0" stroke-width="0.6" />
<line x1="495.50" y1="427.59" x2="662.20" y2="427.59" stroke="#f0f0f0" stroke-width="0.6" />
<line x1="495.50" y1="444.61" x2="662.20" y2="444.61" stroke="#f0f0f0" stroke-width="0.6" />
<line x1="495.50" y1="461.63" x2="662.20" y2="461.63" stroke="#f0f0f0" stroke-width="0.6" />
<line x1="495.50" y1="478.66" x2="662.20" y2="478.66" stroke="#f0f0f0" stroke-width="0.6" />
<line x1="495.50" y1="495.68" x2="662.20" y2="495.68" stroke="#f0f0f0" stroke-width="0.6" />
<text x="493.10" y="370.91" font-size="8.1" text-anchor="end" fill="#1a1a1a" stroke="#1a1a1a" stroke-width="0.22" >Grasp</text>
<rect x="495.50" y="363.01" width="140.13" height="10.00" fill="#E87D87" />
<rect x="495.50" y="363.01" width="20.35" height="10.00" fill="#A3C1DE" />
<line x1="493.90" y1="359.50" x2="495.50" y2="359.50" stroke="#333" stroke-width="0.6" />
<text x="493.10" y="387.93" font-size="8.1" text-anchor="end" fill="#1a1a1a" stroke="#1a1a1a" stroke-width="0.22" >UAV(small)</text>
<rect x="495.50" y="380.03" width="36.89" height="10.00" fill="#E87D87" />
<rect x="495.50" y="380.03" width="12.93" height="10.00" fill="#A3C1DE" />
<line x1="493.90" y1="376.52" x2="495.50" y2="376.52" stroke="#333" stroke-width="0.6" />
<text x="493.10" y="404.96" font-size="8.1" text-anchor="end" fill="#1a1a1a" stroke="#1a1a1a" stroke-width="0.22" >Vehicle</text>
<rect x="495.50" y="397.06" width="44.94" height="10.00" fill="#E87D87" />
<rect x="495.50" y="397.06" width="7.00" height="10.00" fill="#A3C1DE" />
<line x1="493.90" y1="393.54" x2="495.50" y2="393.54" stroke="#333" stroke-width="0.6" />
<text x="493.10" y="421.98" font-size="8.1" text-anchor="end" fill="#1a1a1a" stroke="#1a1a1a" stroke-width="0.22" >Grasp</text>
<rect x="495.50" y="414.08" width="142.68" height="10.00" fill="#E87D87" />
<rect x="495.50" y="414.08" width="20.35" height="10.00" fill="#A3C1DE" />
<line x1="493.90" y1="410.57" x2="495.50" y2="410.57" stroke="#333" stroke-width="0.6" />
<text x="493.10" y="439.00" font-size="8.1" text-anchor="end" fill="#1a1a1a" stroke="#1a1a1a" stroke-width="0.22" >UAV(small)</text>
<rect x="495.50" y="431.10" width="39.64" height="10.00" fill="#E87D87" />
<rect x="495.50" y="431.10" width="12.72" height="10.00" fill="#A3C1DE" />
<line x1="493.90" y1="427.59" x2="495.50" y2="427.59" stroke="#333" stroke-width="0.6" />
<text x="493.10" y="456.02" font-size="8.1" text-anchor="end" fill="#1a1a1a" stroke="#1a1a1a" stroke-width="0.22" >Vehicle</text>
<rect x="495.50" y="448.12" width="50.24" height="10.00" fill="#E87D87" />
<rect x="495.50" y="448.12" width="7.42" height="10.00" fill="#A3C1DE" />
<line x1="493.90" y1="444.61" x2="495.50" y2="444.61" stroke="#333" stroke-width="0.6" />
<text x="493.10" y="473.04" font-size="8.1" text-anchor="end" fill="#1a1a1a" stroke="#1a1a1a" stroke-width="0.22" >Grasp</text>
<rect x="495.50" y="465.14" width="166.70" height="10.00" fill="#E87D87" />
<rect x="495.50" y="465.14" width="26.29" height="10.00" fill="#A3C1DE" />
<line x1="493.90" y1="461.63" x2="495.50" y2="461.63" stroke="#333" stroke-width="0.6" />
<text x="493.10" y="490.07" font-size="8.1" text-anchor="end" fill="#1a1a1a" stroke="#1a1a1a" stroke-width="0.22" >UAV(small)</text>
<rect x="495.50" y="482.17" width="38.80" height="10.00" fill="#E87D87" />
<rect x="495.50" y="482.17" width="13.78" height="10.00" fill="#A3C1DE" />
<line x1="493.90" y1="478.66" x2="495.50" y2="478.66" stroke="#333" stroke-width="0.6" />
<text x="493.10" y="507.09" font-size="8.1" text-anchor="end" fill="#1a1a1a" stroke="#1a1a1a" stroke-width="0.22" >Vehicle</text>
<rect x="495.50" y="499.19" width="48.34" height="10.00" fill="#E87D87" />
<rect x="495.50" y="499.19" width="8.48" height="10.00" fill="#A3C1DE" />
<line x1="493.90" y1="495.68" x2="495.50" y2="495.68" stroke="#333" stroke-width="0.6" />
<line x1="493.90" y1="512.70" x2="495.50" y2="512.70" stroke="#333" stroke-width="0.6" />
<line x1="495.50" y1="359.50" x2="495.50" y2="512.80" stroke="#3a3a3a" stroke-width="1.0" />
<line x1="495.00" y1="512.30" x2="662.20" y2="512.30" stroke="#3a3a3a" stroke-width="1.0" />
<line x1="495.50" y1="512.30" x2="495.50" y2="514.70" stroke="#333" stroke-width="0.6" />
<text x="495.50" y="522.60" font-size="8" text-anchor="middle" fill="#1a1a1a" stroke="#1a1a1a" stroke-width="0.22" >0.0</text>
<line x1="537.90" y1="512.30" x2="537.90" y2="514.70" stroke="#333" stroke-width="0.6" />
<text x="537.90" y="522.60" font-size="8" text-anchor="middle" fill="#1a1a1a" stroke="#1a1a1a" stroke-width="0.22" >0.2</text>
<line x1="580.30" y1="512.30" x2="580.30" y2="514.70" stroke="#333" stroke-width="0.6" />
<text x="580.30" y="522.60" font-size="8" text-anchor="middle" fill="#1a1a1a" stroke="#1a1a1a" stroke-width="0.22" >0.4</text>
<line x1="622.70" y1="512.30" x2="622.70" y2="514.70" stroke="#333" stroke-width="0.6" />
<text x="622.70" y="522.60" font-size="8" text-anchor="middle" fill="#1a1a1a" stroke="#1a1a1a" stroke-width="0.22" >0.6</text>
<text x="579.85" y="535.50" font-size="8" text-anchor="middle" fill="#1a1a1a" stroke="#1a1a1a" stroke-width="0.22" >Time (s)</text>
<line x1="644.40" y1="362.80" x2="644.40" y2="380.05" stroke="#888" stroke-width="0.7" />
<line x1="644.40" y1="392.55" x2="644.40" y2="409.30" stroke="#888" stroke-width="0.7" />
<polyline points="642.60,365.20 644.40,362.80 646.20,365.20" fill="none" stroke="#888" stroke-width="0.7"/>
<polyline points="642.60,406.90 644.40,409.30 646.20,406.90" fill="none" stroke="#888" stroke-width="0.7"/>
<text x="662.00" y="389.75" font-size="9.4" text-anchor="end" fill="#9a9a9a" stroke="#9a9a9a" stroke-width="0.22" >Tracking</text>
<line x1="644.40" y1="410.90" x2="644.40" y2="429.35" stroke="#888" stroke-width="0.7" />
<line x1="644.40" y1="441.85" x2="644.40" y2="459.80" stroke="#888" stroke-width="0.7" />
<polyline points="642.60,413.30 644.40,410.90 646.20,413.30" fill="none" stroke="#888" stroke-width="0.7"/>
<polyline points="642.60,457.40 644.40,459.80 646.20,457.40" fill="none" stroke="#888" stroke-width="0.7"/>
<text x="662.00" y="439.05" font-size="9.4" text-anchor="end" fill="#9a9a9a" stroke="#9a9a9a" stroke-width="0.22" >Segmentation</text>
<line x1="644.40" y1="461.90" x2="644.40" y2="481.00" stroke="#888" stroke-width="0.7" />
<line x1="644.40" y1="493.50" x2="644.40" y2="512.10" stroke="#888" stroke-width="0.7" />
<polyline points="642.60,464.30 644.40,461.90 646.20,464.30" fill="none" stroke="#888" stroke-width="0.7"/>
<polyline points="642.60,509.70 644.40,512.10 646.20,509.70" fill="none" stroke="#888" stroke-width="0.7"/>
<text x="662.00" y="490.70" font-size="9.4" text-anchor="end" fill="#9a9a9a" stroke="#9a9a9a" stroke-width="0.22" >Prediciton</text>
<text x="-0.50" y="557.90" font-size="12" text-anchor="start" fill="#000" stroke="#000" stroke-width="0.22" font-weight="bold" >c</text>
<rect x="44.30" y="571.20" width="1.7" height="1.7" fill="#B8C4EC"/>
<text x="55.10" y="574.20" font-size="7.3" text-anchor="start" fill="#1a1a1a" stroke="#1a1a1a" stroke-width="0.22" >Data point</text>
<line x1="90.50" y1="572.10" x2="106.30" y2="572.10" stroke="#9DAAE4" stroke-width="0.7" />
<text x="108.70" y="574.20" font-size="7.3" text-anchor="start" fill="#1a1a1a" stroke="#1a1a1a" stroke-width="0.22" >Fitted curve</text>
<line x1="37.50" y1="622.00" x2="149.56" y2="598.30" stroke="#9DAAE4" stroke-width="0.7" />
<circle cx="37.50" cy="621.24" r="1.3" fill="none" stroke="#AEBBEA" stroke-width="0.55"/>
<circle cx="59.57" cy="617.05" r="1.3" fill="none" stroke="#AEBBEA" stroke-width="0.55"/>
<circle cx="76.46" cy="615.90" r="1.3" fill="none" stroke="#AEBBEA" stroke-width="0.55"/>
<circle cx="76.46" cy="614.38" r="1.3" fill="none" stroke="#AEBBEA" stroke-width="0.55"/>
<circle cx="76.46" cy="612.86" r="1.3" fill="none" stroke="#AEBBEA" stroke-width="0.55"/>
<circle cx="76.46" cy="611.33" r="1.3" fill="none" stroke="#AEBBEA" stroke-width="0.55"/>
<circle cx="82.32" cy="612.86" r="1.3" fill="none" stroke="#AEBBEA" stroke-width="0.55"/>
<circle cx="93.87" cy="611.33" r="1.3" fill="none" stroke="#AEBBEA" stroke-width="0.55"/>
<circle cx="93.87" cy="610.19" r="1.3" fill="none" stroke="#AEBBEA" stroke-width="0.55"/>
<circle cx="93.87" cy="608.66" r="1.3" fill="none" stroke="#AEBBEA" stroke-width="0.55"/>
<circle cx="93.87" cy="607.14" r="1.3" fill="none" stroke="#AEBBEA" stroke-width="0.55"/>
<circle cx="106.46" cy="608.28" r="1.3" fill="none" stroke="#AEBBEA" stroke-width="0.55"/>
<circle cx="119.22" cy="604.09" r="1.3" fill="none" stroke="#AEBBEA" stroke-width="0.55"/>
<circle cx="119.22" cy="600.66" r="1.3" fill="none" stroke="#AEBBEA" stroke-width="0.55"/>
<circle cx="149.90" cy="602.19" r="1.3" fill="none" stroke="#AEBBEA" stroke-width="0.55"/>
<line x1="37.50" y1="578.10" x2="37.50" y2="626.50" stroke="#555" stroke-width="1.0" />
<line x1="37.50" y1="626.00" x2="175.42" y2="626.00" stroke="#666" stroke-width="1.0" />
<line x1="37.50" y1="622.00" x2="39.00" y2="622.00" stroke="#444" stroke-width="0.6" />
<text x="35.30" y="624.60" font-size="7.3" text-anchor="end" fill="#1a1a1a" stroke="#1a1a1a" stroke-width="0.22" >0</text>
<line x1="37.50" y1="602.95" x2="39.00" y2="602.95" stroke="#444" stroke-width="0.6" />
<text x="35.30" y="605.55" font-size="7.3" text-anchor="end" fill="#1a1a1a" stroke="#1a1a1a" stroke-width="0.22" >50</text>
<line x1="37.50" y1="583.90" x2="39.00" y2="583.90" stroke="#444" stroke-width="0.6" />
<text x="35.30" y="586.50" font-size="7.3" text-anchor="end" fill="#1a1a1a" stroke="#1a1a1a" stroke-width="0.22" >100</text>
<line x1="37.50" y1="625.50" x2="37.50" y2="624.30" stroke="#666" stroke-width="0.6" />
<line x1="71.98" y1="625.50" x2="71.98" y2="624.30" stroke="#666" stroke-width="0.6" />
<line x1="106.46" y1="625.50" x2="106.46" y2="624.30" stroke="#666" stroke-width="0.6" />
<line x1="140.94" y1="625.50" x2="140.94" y2="624.30" stroke="#666" stroke-width="0.6" />
<line x1="175.42" y1="625.50" x2="175.42" y2="624.30" stroke="#666" stroke-width="0.6" />
<text x="37.50" y="634.10" font-size="7.5" text-anchor="middle" fill="#1a1a1a" stroke="#1a1a1a" stroke-width="0.22" >0</text>
<text x="106.46" y="634.10" font-size="7.5" text-anchor="middle" fill="#1a1a1a" stroke="#1a1a1a" stroke-width="0.22" >40</text>
<text x="175.42" y="634.10" font-size="7.5" text-anchor="middle" fill="#1a1a1a" stroke="#1a1a1a" stroke-width="0.22" >80</text>
<text x="106.40" y="642.90" font-size="8.1" text-anchor="middle" fill="#1a1a1a" stroke="#1a1a1a" stroke-width="0.22" >Region percent (%)</text>
<text x="0" y="0" font-size="7.15" text-anchor="middle" fill="#1a1a1a" stroke="#1a1a1a" stroke-width="0.22" transform="translate(20.00,605.10) rotate(-90)">Acceleration ratio (%)</text>
<text x="176.70" y="616.80" font-size="9.6" text-anchor="end" fill="#8c8c8c" stroke="#8c8c8c" stroke-width="0.22" font-style="italic" >Farneback</text>
<text x="49.40" y="601.50" font-size="7.3" fill="#1a1a1a" stroke="#1a1a1a" stroke-width="0.2"><tspan font-style="italic">R</tspan><tspan font-size="4.6" dy="-2.9">2</tspan><tspan dy="2.9">=0.9719</tspan></text>
<rect x="215.30" y="571.20" width="1.7" height="1.7" fill="#B8C4EC"/>
<text x="226.10" y="574.20" font-size="7.3" text-anchor="start" fill="#1a1a1a" stroke="#1a1a1a" stroke-width="0.22" >Data point</text>
<line x1="261.50" y1="572.10" x2="277.30" y2="572.10" stroke="#9DAAE4" stroke-width="0.7" />
<text x="279.70" y="574.20" font-size="7.3" text-anchor="start" fill="#1a1a1a" stroke="#1a1a1a" stroke-width="0.22" >Fitted curve</text>
<line x1="208.50" y1="624.60" x2="320.56" y2="591.80" stroke="#9DAAE4" stroke-width="0.7" />
<circle cx="208.50" cy="624.00" r="1.3" fill="none" stroke="#AEBBEA" stroke-width="0.55"/>
<circle cx="230.57" cy="618.18" r="1.3" fill="none" stroke="#AEBBEA" stroke-width="0.55"/>
<circle cx="230.57" cy="623.21" r="1.3" fill="none" stroke="#AEBBEA" stroke-width="0.55"/>
<circle cx="247.46" cy="616.61" r="1.3" fill="none" stroke="#AEBBEA" stroke-width="0.55"/>
<circle cx="247.46" cy="622.90" r="1.3" fill="none" stroke="#AEBBEA" stroke-width="0.55"/>
<circle cx="253.32" cy="606.71" r="1.3" fill="none" stroke="#AEBBEA" stroke-width="0.55"/>
<circle cx="253.32" cy="579.04" r="1.3" fill="none" stroke="#AEBBEA" stroke-width="0.55"/>
<circle cx="265.39" cy="579.04" r="1.3" fill="none" stroke="#AEBBEA" stroke-width="0.55"/>
<circle cx="265.39" cy="621.96" r="1.3" fill="none" stroke="#AEBBEA" stroke-width="0.55"/>
<circle cx="277.46" cy="578.73" r="1.3" fill="none" stroke="#AEBBEA" stroke-width="0.55"/>
<circle cx="290.56" cy="579.04" r="1.3" fill="none" stroke="#AEBBEA" stroke-width="0.55"/>
<circle cx="290.56" cy="620.23" r="1.3" fill="none" stroke="#AEBBEA" stroke-width="0.55"/>
<circle cx="320.56" cy="578.10" r="1.3" fill="none" stroke="#AEBBEA" stroke-width="0.55"/>
<line x1="208.50" y1="578.10" x2="208.50" y2="626.50" stroke="#555" stroke-width="1.0" />
<line x1="208.50" y1="626.00" x2="346.42" y2="626.00" stroke="#666" stroke-width="1.0" />
<line x1="208.50" y1="624.00" x2="210.00" y2="624.00" stroke="#444" stroke-width="0.6" />
<text x="206.30" y="626.60" font-size="7.3" text-anchor="end" fill="#1a1a1a" stroke="#1a1a1a" stroke-width="0.22" >0</text>
<line x1="208.50" y1="608.28" x2="210.00" y2="608.28" stroke="#444" stroke-width="0.6" />
<text x="206.30" y="610.88" font-size="7.3" text-anchor="end" fill="#1a1a1a" stroke="#1a1a1a" stroke-width="0.22" >100</text>
<line x1="208.50" y1="592.56" x2="210.00" y2="592.56" stroke="#444" stroke-width="0.6" />
<text x="206.30" y="595.16" font-size="7.3" text-anchor="end" fill="#1a1a1a" stroke="#1a1a1a" stroke-width="0.22" >200</text>
<line x1="208.50" y1="576.84" x2="210.00" y2="576.84" stroke="#444" stroke-width="0.6" />
<text x="206.30" y="579.44" font-size="7.3" text-anchor="end" fill="#1a1a1a" stroke="#1a1a1a" stroke-width="0.22" >300</text>
<line x1="208.50" y1="625.50" x2="208.50" y2="624.30" stroke="#666" stroke-width="0.6" />
<line x1="242.98" y1="625.50" x2="242.98" y2="624.30" stroke="#666" stroke-width="0.6" />
<line x1="277.46" y1="625.50" x2="277.46" y2="624.30" stroke="#666" stroke-width="0.6" />
<line x1="311.94" y1="625.50" x2="311.94" y2="624.30" stroke="#666" stroke-width="0.6" />
<line x1="346.42" y1="625.50" x2="346.42" y2="624.30" stroke="#666" stroke-width="0.6" />
<text x="208.50" y="634.10" font-size="7.5" text-anchor="middle" fill="#1a1a1a" stroke="#1a1a1a" stroke-width="0.22" >0</text>
<text x="277.46" y="634.10" font-size="7.5" text-anchor="middle" fill="#1a1a1a" stroke="#1a1a1a" stroke-width="0.22" >40</text>
<text x="346.42" y="634.10" font-size="7.5" text-anchor="middle" fill="#1a1a1a" stroke="#1a1a1a" stroke-width="0.22" >80</text>
<text x="277.40" y="642.90" font-size="8.1" text-anchor="middle" fill="#1a1a1a" stroke="#1a1a1a" stroke-width="0.22" >Region percent (%)</text>
<text x="0" y="0" font-size="7.15" text-anchor="middle" fill="#1a1a1a" stroke="#1a1a1a" stroke-width="0.22" transform="translate(191.00,605.10) rotate(-90)">Acceleration ratio (%)</text>
<text x="348.30" y="616.80" font-size="9.6" text-anchor="end" fill="#8c8c8c" stroke="#8c8c8c" stroke-width="0.22" font-style="italic" >GMFlow</text>
<text x="213.40" y="599.70" font-size="7.3" fill="#1a1a1a" stroke="#1a1a1a" stroke-width="0.2"><tspan font-style="italic">R</tspan><tspan font-size="4.6" dy="-2.9">2</tspan><tspan dy="2.9">=0.4094</tspan></text>
<rect x="44.30" y="648.70" width="1.7" height="1.7" fill="#B8C4EC"/>
<text x="55.10" y="651.70" font-size="7.3" text-anchor="start" fill="#1a1a1a" stroke="#1a1a1a" stroke-width="0.22" >Data point</text>
<line x1="90.50" y1="649.60" x2="106.30" y2="649.60" stroke="#9DAAE4" stroke-width="0.7" />
<text x="108.70" y="651.70" font-size="7.3" text-anchor="start" fill="#1a1a1a" stroke="#1a1a1a" stroke-width="0.22" >Fitted curve</text>
<line x1="37.50" y1="699.10" x2="149.56" y2="667.10" stroke="#9DAAE4" stroke-width="0.7" />
<circle cx="37.50" cy="699.90" r="1.3" fill="none" stroke="#AEBBEA" stroke-width="0.55"/>
<circle cx="59.57" cy="687.49" r="1.3" fill="none" stroke="#AEBBEA" stroke-width="0.55"/>
<circle cx="76.46" cy="684.86" r="1.3" fill="none" stroke="#AEBBEA" stroke-width="0.55"/>
<circle cx="82.32" cy="682.98" r="1.3" fill="none" stroke="#AEBBEA" stroke-width="0.55"/>
<circle cx="93.87" cy="683.36" r="1.3" fill="none" stroke="#AEBBEA" stroke-width="0.55"/>
<circle cx="106.46" cy="681.10" r="1.3" fill="none" stroke="#AEBBEA" stroke-width="0.55"/>
<circle cx="119.22" cy="679.22" r="1.3" fill="none" stroke="#AEBBEA" stroke-width="0.55"/>
<circle cx="149.90" cy="671.70" r="1.3" fill="none" stroke="#AEBBEA" stroke-width="0.55"/>
<line x1="37.50" y1="655.60" x2="37.50" y2="704.00" stroke="#555" stroke-width="1.0" />
<line x1="37.50" y1="703.50" x2="175.42" y2="703.50" stroke="#666" stroke-width="1.0" />
<line x1="37.50" y1="699.90" x2="39.00" y2="699.90" stroke="#444" stroke-width="0.6" />
<text x="35.30" y="702.50" font-size="7.3" text-anchor="end" fill="#1a1a1a" stroke="#1a1a1a" stroke-width="0.22" >0</text>
<line x1="37.50" y1="681.10" x2="39.00" y2="681.10" stroke="#444" stroke-width="0.6" />
<text x="35.30" y="683.70" font-size="7.3" text-anchor="end" fill="#1a1a1a" stroke="#1a1a1a" stroke-width="0.22" >50</text>
<line x1="37.50" y1="662.30" x2="39.00" y2="662.30" stroke="#444" stroke-width="0.6" />
<text x="35.30" y="664.90" font-size="7.3" text-anchor="end" fill="#1a1a1a" stroke="#1a1a1a" stroke-width="0.22" >100</text>
<line x1="37.50" y1="703.00" x2="37.50" y2="701.80" stroke="#666" stroke-width="0.6" />
<line x1="71.98" y1="703.00" x2="71.98" y2="701.80" stroke="#666" stroke-width="0.6" />
<line x1="106.46" y1="703.00" x2="106.46" y2="701.80" stroke="#666" stroke-width="0.6" />
<line x1="140.94" y1="703.00" x2="140.94" y2="701.80" stroke="#666" stroke-width="0.6" />
<line x1="175.42" y1="703.00" x2="175.42" y2="701.80" stroke="#666" stroke-width="0.6" />
<text x="37.50" y="711.60" font-size="7.5" text-anchor="middle" fill="#1a1a1a" stroke="#1a1a1a" stroke-width="0.22" >0</text>
<text x="106.46" y="711.60" font-size="7.5" text-anchor="middle" fill="#1a1a1a" stroke="#1a1a1a" stroke-width="0.22" >40</text>
<text x="175.42" y="711.60" font-size="7.5" text-anchor="middle" fill="#1a1a1a" stroke="#1a1a1a" stroke-width="0.22" >80</text>
<text x="106.40" y="720.40" font-size="8.1" text-anchor="middle" fill="#1a1a1a" stroke="#1a1a1a" stroke-width="0.22" >Region percent (%)</text>
<text x="0" y="0" font-size="7.15" text-anchor="middle" fill="#1a1a1a" stroke="#1a1a1a" stroke-width="0.22" transform="translate(20.00,682.60) rotate(-90)">Acceleration ratio (%)</text>
<text x="176.70" y="694.30" font-size="9.6" text-anchor="end" fill="#8c8c8c" stroke="#8c8c8c" stroke-width="0.22" font-style="italic" >RAFT</text>
<text x="43.40" y="675.50" font-size="7.3" fill="#1a1a1a" stroke="#1a1a1a" stroke-width="0.2"><tspan font-style="italic">R</tspan><tspan font-size="4.6" dy="-2.9">2</tspan><tspan dy="2.9">=0.9413</tspan></text>
<rect x="215.30" y="648.70" width="1.7" height="1.7" fill="#B8C4EC"/>
<text x="226.10" y="651.70" font-size="7.3" text-anchor="start" fill="#1a1a1a" stroke="#1a1a1a" stroke-width="0.22" >Data point</text>
<line x1="261.50" y1="649.60" x2="277.30" y2="649.60" stroke="#9DAAE4" stroke-width="0.7" />
<text x="279.70" y="651.70" font-size="7.3" text-anchor="start" fill="#1a1a1a" stroke="#1a1a1a" stroke-width="0.22" >Fitted curve</text>
<line x1="208.50" y1="699.10" x2="320.56" y2="672.80" stroke="#9DAAE4" stroke-width="0.7" />
<circle cx="208.50" cy="699.15" r="1.3" fill="none" stroke="#AEBBEA" stroke-width="0.55"/>
<circle cx="208.50" cy="698.02" r="1.3" fill="none" stroke="#AEBBEA" stroke-width="0.55"/>
<circle cx="230.57" cy="693.13" r="1.3" fill="none" stroke="#AEBBEA" stroke-width="0.55"/>
<circle cx="247.46" cy="684.11" r="1.3" fill="none" stroke="#AEBBEA" stroke-width="0.55"/>
<circle cx="247.46" cy="689.37" r="1.3" fill="none" stroke="#AEBBEA" stroke-width="0.55"/>
<circle cx="247.46" cy="690.88" r="1.3" fill="none" stroke="#AEBBEA" stroke-width="0.55"/>
<circle cx="253.32" cy="687.87" r="1.3" fill="none" stroke="#AEBBEA" stroke-width="0.55"/>
<circle cx="264.87" cy="684.11" r="1.3" fill="none" stroke="#AEBBEA" stroke-width="0.55"/>
<circle cx="264.87" cy="685.61" r="1.3" fill="none" stroke="#AEBBEA" stroke-width="0.55"/>
<circle cx="264.87" cy="687.49" r="1.3" fill="none" stroke="#AEBBEA" stroke-width="0.55"/>
<circle cx="264.87" cy="689.37" r="1.3" fill="none" stroke="#AEBBEA" stroke-width="0.55"/>
<circle cx="277.46" cy="682.23" r="1.3" fill="none" stroke="#AEBBEA" stroke-width="0.55"/>
<circle cx="290.22" cy="674.71" r="1.3" fill="none" stroke="#AEBBEA" stroke-width="0.55"/>
<circle cx="290.22" cy="685.24" r="1.3" fill="none" stroke="#AEBBEA" stroke-width="0.55"/>
<circle cx="320.56" cy="677.72" r="1.3" fill="none" stroke="#AEBBEA" stroke-width="0.55"/>
<line x1="208.50" y1="655.60" x2="208.50" y2="704.00" stroke="#555" stroke-width="1.0" />
<line x1="208.50" y1="703.50" x2="346.42" y2="703.50" stroke="#666" stroke-width="1.0" />
<line x1="208.50" y1="699.90" x2="210.00" y2="699.90" stroke="#444" stroke-width="0.6" />
<text x="206.30" y="702.50" font-size="7.3" text-anchor="end" fill="#1a1a1a" stroke="#1a1a1a" stroke-width="0.22" >0</text>
<line x1="208.50" y1="681.10" x2="210.00" y2="681.10" stroke="#444" stroke-width="0.6" />
<text x="206.30" y="683.70" font-size="7.3" text-anchor="end" fill="#1a1a1a" stroke="#1a1a1a" stroke-width="0.22" >50</text>
<line x1="208.50" y1="662.30" x2="210.00" y2="662.30" stroke="#444" stroke-width="0.6" />
<text x="206.30" y="664.90" font-size="7.3" text-anchor="end" fill="#1a1a1a" stroke="#1a1a1a" stroke-width="0.22" >100</text>
<line x1="208.50" y1="703.00" x2="208.50" y2="701.80" stroke="#666" stroke-width="0.6" />
<line x1="242.98" y1="703.00" x2="242.98" y2="701.80" stroke="#666" stroke-width="0.6" />
<line x1="277.46" y1="703.00" x2="277.46" y2="701.80" stroke="#666" stroke-width="0.6" />
<line x1="311.94" y1="703.00" x2="311.94" y2="701.80" stroke="#666" stroke-width="0.6" />
<line x1="346.42" y1="703.00" x2="346.42" y2="701.80" stroke="#666" stroke-width="0.6" />
<text x="208.50" y="711.60" font-size="7.5" text-anchor="middle" fill="#1a1a1a" stroke="#1a1a1a" stroke-width="0.22" >0</text>
<text x="277.46" y="711.60" font-size="7.5" text-anchor="middle" fill="#1a1a1a" stroke="#1a1a1a" stroke-width="0.22" >40</text>
<text x="346.42" y="711.60" font-size="7.5" text-anchor="middle" fill="#1a1a1a" stroke="#1a1a1a" stroke-width="0.22" >80</text>
<text x="277.40" y="720.40" font-size="8.1" text-anchor="middle" fill="#1a1a1a" stroke="#1a1a1a" stroke-width="0.22" >Region percent (%)</text>
<text x="0" y="0" font-size="7.15" text-anchor="middle" fill="#1a1a1a" stroke="#1a1a1a" stroke-width="0.22" transform="translate(191.00,682.60) rotate(-90)">Acceleration ratio (%)</text>
<text x="348.30" y="694.30" font-size="9.6" text-anchor="end" fill="#8c8c8c" stroke="#8c8c8c" stroke-width="0.22" font-style="italic" >Prediction</text>
<text x="224.60" y="679.40" font-size="7.3" fill="#1a1a1a" stroke="#1a1a1a" stroke-width="0.2"><tspan font-style="italic">R</tspan><tspan font-size="4.6" dy="-2.9">2</tspan><tspan dy="2.9">=0.9241</tspan></text>
<rect x="44.30" y="726.70" width="1.7" height="1.7" fill="#B8C4EC"/>
<text x="55.10" y="729.70" font-size="7.3" text-anchor="start" fill="#1a1a1a" stroke="#1a1a1a" stroke-width="0.22" >Data point</text>
<line x1="90.50" y1="727.60" x2="106.30" y2="727.60" stroke="#9DAAE4" stroke-width="0.7" />
<text x="108.70" y="729.70" font-size="7.3" text-anchor="start" fill="#1a1a1a" stroke="#1a1a1a" stroke-width="0.22" >Fitted curve</text>
<line x1="37.50" y1="776.60" x2="149.56" y2="754.30" stroke="#9DAAE4" stroke-width="0.7" />
<circle cx="37.50" cy="776.66" r="1.3" fill="none" stroke="#AEBBEA" stroke-width="0.55"/>
<circle cx="59.57" cy="774.07" r="1.3" fill="none" stroke="#AEBBEA" stroke-width="0.55"/>
<circle cx="59.57" cy="772.22" r="1.3" fill="none" stroke="#AEBBEA" stroke-width="0.55"/>
<circle cx="76.46" cy="768.89" r="1.3" fill="none" stroke="#AEBBEA" stroke-width="0.55"/>
<circle cx="76.46" cy="767.41" r="1.3" fill="none" stroke="#AEBBEA" stroke-width="0.55"/>
<circle cx="76.46" cy="765.93" r="1.3" fill="none" stroke="#AEBBEA" stroke-width="0.55"/>
<circle cx="82.32" cy="772.59" r="1.3" fill="none" stroke="#AEBBEA" stroke-width="0.55"/>
<circle cx="82.32" cy="764.82" r="1.3" fill="none" stroke="#AEBBEA" stroke-width="0.55"/>
<circle cx="93.87" cy="762.23" r="1.3" fill="none" stroke="#AEBBEA" stroke-width="0.55"/>
<circle cx="93.87" cy="768.52" r="1.3" fill="none" stroke="#AEBBEA" stroke-width="0.55"/>
<circle cx="93.87" cy="765.56" r="1.3" fill="none" stroke="#AEBBEA" stroke-width="0.55"/>
<circle cx="106.46" cy="766.30" r="1.3" fill="none" stroke="#AEBBEA" stroke-width="0.55"/>
<circle cx="119.22" cy="750.39" r="1.3" fill="none" stroke="#AEBBEA" stroke-width="0.55"/>
<circle cx="119.22" cy="760.38" r="1.3" fill="none" stroke="#AEBBEA" stroke-width="0.55"/>
<circle cx="149.90" cy="759.64" r="1.3" fill="none" stroke="#AEBBEA" stroke-width="0.55"/>
<line x1="37.50" y1="733.60" x2="37.50" y2="782.00" stroke="#555" stroke-width="1.0" />
<line x1="37.50" y1="781.50" x2="175.42" y2="781.50" stroke="#666" stroke-width="1.0" />
<line x1="37.50" y1="777.40" x2="39.00" y2="777.40" stroke="#444" stroke-width="0.6" />
<text x="35.30" y="780.00" font-size="7.3" text-anchor="end" fill="#1a1a1a" stroke="#1a1a1a" stroke-width="0.22" >0</text>
<line x1="37.50" y1="758.90" x2="39.00" y2="758.90" stroke="#444" stroke-width="0.6" />
<text x="35.30" y="761.50" font-size="7.3" text-anchor="end" fill="#1a1a1a" stroke="#1a1a1a" stroke-width="0.22" >50</text>
<line x1="37.50" y1="740.40" x2="39.00" y2="740.40" stroke="#444" stroke-width="0.6" />
<text x="35.30" y="743.00" font-size="7.3" text-anchor="end" fill="#1a1a1a" stroke="#1a1a1a" stroke-width="0.22" >100</text>
<line x1="37.50" y1="781.00" x2="37.50" y2="779.80" stroke="#666" stroke-width="0.6" />
<line x1="71.98" y1="781.00" x2="71.98" y2="779.80" stroke="#666" stroke-width="0.6" />
<line x1="106.46" y1="781.00" x2="106.46" y2="779.80" stroke="#666" stroke-width="0.6" />
<line x1="140.94" y1="781.00" x2="140.94" y2="779.80" stroke="#666" stroke-width="0.6" />
<line x1="175.42" y1="781.00" x2="175.42" y2="779.80" stroke="#666" stroke-width="0.6" />
<text x="37.50" y="789.60" font-size="7.5" text-anchor="middle" fill="#1a1a1a" stroke="#1a1a1a" stroke-width="0.22" >0</text>
<text x="106.46" y="789.60" font-size="7.5" text-anchor="middle" fill="#1a1a1a" stroke="#1a1a1a" stroke-width="0.22" >40</text>
<text x="175.42" y="789.60" font-size="7.5" text-anchor="middle" fill="#1a1a1a" stroke="#1a1a1a" stroke-width="0.22" >80</text>
<text x="106.40" y="798.40" font-size="8.1" text-anchor="middle" fill="#1a1a1a" stroke="#1a1a1a" stroke-width="0.22" >Region percent (%)</text>
<text x="0" y="0" font-size="7.15" text-anchor="middle" fill="#1a1a1a" stroke="#1a1a1a" stroke-width="0.22" transform="translate(20.00,760.60) rotate(-90)">Acceleration ratio (%)</text>
<text x="176.70" y="772.30" font-size="9.6" text-anchor="end" fill="#8c8c8c" stroke="#8c8c8c" stroke-width="0.22" font-style="italic" >Segmentation</text>
<text x="49.90" y="755.60" font-size="7.3" fill="#1a1a1a" stroke="#1a1a1a" stroke-width="0.2"><tspan font-style="italic">R</tspan><tspan font-size="4.6" dy="-2.9">2</tspan><tspan dy="2.9">=0.8744</tspan></text>
<rect x="215.30" y="726.70" width="1.7" height="1.7" fill="#B8C4EC"/>
<text x="226.10" y="729.70" font-size="7.3" text-anchor="start" fill="#1a1a1a" stroke="#1a1a1a" stroke-width="0.22" >Data point</text>
<line x1="261.50" y1="727.60" x2="277.30" y2="727.60" stroke="#9DAAE4" stroke-width="0.7" />
<text x="279.70" y="729.70" font-size="7.3" text-anchor="start" fill="#1a1a1a" stroke="#1a1a1a" stroke-width="0.22" >Fitted curve</text>
<line x1="208.50" y1="776.10" x2="320.56" y2="737.70" stroke="#9DAAE4" stroke-width="0.7" />
<circle cx="208.50" cy="776.66" r="1.3" fill="none" stroke="#AEBBEA" stroke-width="0.55"/>
<circle cx="208.50" cy="775.18" r="1.3" fill="none" stroke="#AEBBEA" stroke-width="0.55"/>
<circle cx="230.57" cy="766.67" r="1.3" fill="none" stroke="#AEBBEA" stroke-width="0.55"/>
<circle cx="247.46" cy="755.94" r="1.3" fill="none" stroke="#AEBBEA" stroke-width="0.55"/>
<circle cx="247.46" cy="757.79" r="1.3" fill="none" stroke="#AEBBEA" stroke-width="0.55"/>
<circle cx="247.46" cy="762.23" r="1.3" fill="none" stroke="#AEBBEA" stroke-width="0.55"/>
<circle cx="247.46" cy="764.08" r="1.3" fill="none" stroke="#AEBBEA" stroke-width="0.55"/>
<circle cx="253.32" cy="761.49" r="1.3" fill="none" stroke="#AEBBEA" stroke-width="0.55"/>
<circle cx="264.87" cy="747.80" r="1.3" fill="none" stroke="#AEBBEA" stroke-width="0.55"/>
<circle cx="264.87" cy="750.39" r="1.3" fill="none" stroke="#AEBBEA" stroke-width="0.55"/>
<circle cx="264.87" cy="754.46" r="1.3" fill="none" stroke="#AEBBEA" stroke-width="0.55"/>
<circle cx="264.87" cy="764.82" r="1.3" fill="none" stroke="#AEBBEA" stroke-width="0.55"/>
<circle cx="264.87" cy="766.67" r="1.3" fill="none" stroke="#AEBBEA" stroke-width="0.55"/>
<circle cx="277.46" cy="752.61" r="1.3" fill="none" stroke="#AEBBEA" stroke-width="0.55"/>
<circle cx="290.22" cy="742.62" r="1.3" fill="none" stroke="#AEBBEA" stroke-width="0.55"/>
<circle cx="290.22" cy="755.57" r="1.3" fill="none" stroke="#AEBBEA" stroke-width="0.55"/>
<circle cx="320.56" cy="743.36" r="1.3" fill="none" stroke="#AEBBEA" stroke-width="0.55"/>
<line x1="208.50" y1="733.60" x2="208.50" y2="782.00" stroke="#555" stroke-width="1.0" />
<line x1="208.50" y1="781.50" x2="346.42" y2="781.50" stroke="#666" stroke-width="1.0" />
<line x1="208.50" y1="777.40" x2="210.00" y2="777.40" stroke="#444" stroke-width="0.6" />
<text x="206.30" y="780.00" font-size="7.3" text-anchor="end" fill="#1a1a1a" stroke="#1a1a1a" stroke-width="0.22" >0</text>
<line x1="208.50" y1="758.90" x2="210.00" y2="758.90" stroke="#444" stroke-width="0.6" />
<text x="206.30" y="761.50" font-size="7.3" text-anchor="end" fill="#1a1a1a" stroke="#1a1a1a" stroke-width="0.22" >50</text>
<line x1="208.50" y1="740.40" x2="210.00" y2="740.40" stroke="#444" stroke-width="0.6" />
<text x="206.30" y="743.00" font-size="7.3" text-anchor="end" fill="#1a1a1a" stroke="#1a1a1a" stroke-width="0.22" >100</text>
<line x1="208.50" y1="781.00" x2="208.50" y2="779.80" stroke="#666" stroke-width="0.6" />
<line x1="242.98" y1="781.00" x2="242.98" y2="779.80" stroke="#666" stroke-width="0.6" />
<line x1="277.46" y1="781.00" x2="277.46" y2="779.80" stroke="#666" stroke-width="0.6" />
<line x1="311.94" y1="781.00" x2="311.94" y2="779.80" stroke="#666" stroke-width="0.6" />
<line x1="346.42" y1="781.00" x2="346.42" y2="779.80" stroke="#666" stroke-width="0.6" />
<text x="208.50" y="789.60" font-size="7.5" text-anchor="middle" fill="#1a1a1a" stroke="#1a1a1a" stroke-width="0.22" >0</text>
<text x="277.46" y="789.60" font-size="7.5" text-anchor="middle" fill="#1a1a1a" stroke="#1a1a1a" stroke-width="0.22" >40</text>
<text x="346.42" y="789.60" font-size="7.5" text-anchor="middle" fill="#1a1a1a" stroke="#1a1a1a" stroke-width="0.22" >80</text>
<text x="277.40" y="798.40" font-size="8.1" text-anchor="middle" fill="#1a1a1a" stroke="#1a1a1a" stroke-width="0.22" >Region percent (%)</text>
<text x="0" y="0" font-size="7.15" text-anchor="middle" fill="#1a1a1a" stroke="#1a1a1a" stroke-width="0.22" transform="translate(191.00,760.60) rotate(-90)">Acceleration ratio (%)</text>
<text x="348.30" y="772.30" font-size="9.6" text-anchor="end" fill="#8c8c8c" stroke="#8c8c8c" stroke-width="0.22" font-style="italic" >Tracking</text>
<text x="215.20" y="747.20" font-size="7.3" fill="#1a1a1a" stroke="#1a1a1a" stroke-width="0.2"><tspan font-style="italic">R</tspan><tspan font-size="4.6" dy="-2.9">2</tspan><tspan dy="2.9">=0.8854</tspan></text>
<text x="365.50" y="557.80" font-size="12" text-anchor="start" fill="#000" stroke="#000" stroke-width="0.22" font-weight="bold" >d</text>
<rect x="393.30" y="569.80" width="14.20" height="3.20" fill="#94D2F2" />
<text x="409.50" y="573.10" font-size="6.4" text-anchor="start" fill="#1a1a1a" stroke="#1a1a1a" stroke-width="0.22" >Prediction (Conventional)</text>
<rect x="393.30" y="576.90" width="14.20" height="3.20" fill="#0AA0DC" />
<text x="409.50" y="580.20" font-size="6.4" text-anchor="start" fill="#1a1a1a" stroke="#1a1a1a" stroke-width="0.22" >Prediction (Neuromorphic)</text>
<rect x="490.10" y="569.80" width="14.20" height="3.20" fill="#E4A0C0" />
<text x="506.30" y="573.10" font-size="6.4" text-anchor="start" fill="#1a1a1a" stroke="#1a1a1a" stroke-width="0.22" >Segmentation (Conventional)</text>
<rect x="490.10" y="576.90" width="14.20" height="3.20" fill="#D8384E" />
<text x="506.30" y="580.20" font-size="6.4" text-anchor="start" fill="#1a1a1a" stroke="#1a1a1a" stroke-width="0.22" >Segmentation (Neuromorphic)</text>
<rect x="596.00" y="569.80" width="14.20" height="3.20" fill="#AED396" />
<text x="612.20" y="573.10" font-size="6.4" text-anchor="start" fill="#1a1a1a" stroke="#1a1a1a" stroke-width="0.22" >Tracking (Conventional)</text>
<rect x="596.00" y="576.90" width="14.20" height="3.20" fill="#2DA84E" />
<text x="612.20" y="580.20" font-size="6.4" text-anchor="start" fill="#1a1a1a" stroke="#1a1a1a" stroke-width="0.22" >Tracking (Neuromorphic)</text>
<circle cx="402.80" cy="647.60" r="6.70" fill="#94D2F2" stroke="#666" stroke-width="0.45"/>
<circle cx="411.20" cy="647.50" r="4.40" fill="#0AA0DC" stroke="#666" stroke-width="0.45"/>
<circle cx="418.20" cy="606.40" r="6.70" fill="#E4A0C0" stroke="#666" stroke-width="0.45"/>
<circle cx="426.40" cy="606.70" r="4.20" fill="#D8384E" stroke="#666" stroke-width="0.45"/>
<circle cx="433.60" cy="746.70" r="6.50" fill="#AED396" stroke="#666" stroke-width="0.45"/>
<circle cx="441.90" cy="713.30" r="4.20" fill="#2DA84E" stroke="#666" stroke-width="0.45"/>
<circle cx="449.70" cy="612.20" r="3.60" fill="#94D2F2" stroke="#666" stroke-width="0.45"/>
<circle cx="457.40" cy="611.80" r="3.60" fill="#0AA0DC" stroke="#666" stroke-width="0.45"/>
<circle cx="465.30" cy="615.10" r="3.70" fill="#E4A0C0" stroke="#666" stroke-width="0.45"/>
<circle cx="473.20" cy="615.30" r="3.60" fill="#D8384E" stroke="#666" stroke-width="0.45"/>
<circle cx="481.10" cy="653.70" r="3.60" fill="#AED396" stroke="#666" stroke-width="0.45"/>
<circle cx="488.60" cy="657.20" r="3.60" fill="#2DA84E" stroke="#666" stroke-width="0.45"/>
<circle cx="496.40" cy="628.80" r="5.40" fill="#94D2F2" stroke="#666" stroke-width="0.45"/>
<circle cx="503.80" cy="628.80" r="4.40" fill="#0AA0DC" stroke="#666" stroke-width="0.45"/>
<circle cx="511.80" cy="612.00" r="5.40" fill="#E4A0C0" stroke="#666" stroke-width="0.45"/>
<circle cx="519.20" cy="605.00" r="4.40" fill="#D8384E" stroke="#666" stroke-width="0.45"/>
<circle cx="527.00" cy="727.70" r="5.00" fill="#AED396" stroke="#666" stroke-width="0.45"/>
<circle cx="534.60" cy="684.00" r="4.00" fill="#2DA84E" stroke="#666" stroke-width="0.45"/>
<circle cx="542.50" cy="612.50" r="3.70" fill="#94D2F2" stroke="#666" stroke-width="0.45"/>
<circle cx="550.50" cy="611.00" r="3.70" fill="#0AA0DC" stroke="#666" stroke-width="0.45"/>
<circle cx="558.40" cy="648.20" r="3.70" fill="#E4A0C0" stroke="#666" stroke-width="0.45"/>
<circle cx="566.00" cy="620.60" r="3.80" fill="#D8384E" stroke="#666" stroke-width="0.45"/>
<circle cx="573.80" cy="746.40" r="3.70" fill="#AED396" stroke="#666" stroke-width="0.45"/>
<circle cx="581.30" cy="735.00" r="3.50" fill="#2DA84E" stroke="#666" stroke-width="0.45"/>
<circle cx="589.30" cy="609.90" r="16.80" fill="#94D2F2" stroke="#666" stroke-width="0.45"/>
<circle cx="596.70" cy="608.10" r="5.30" fill="#0AA0DC" stroke="#666" stroke-width="0.45"/>
<circle cx="604.70" cy="689.70" r="16.00" fill="#E4A0C0" stroke="#666" stroke-width="0.45"/>
<circle cx="612.70" cy="618.70" r="4.80" fill="#D8384E" stroke="#666" stroke-width="0.45"/>
<circle cx="620.10" cy="758.90" r="15.40" fill="#AED396" stroke="#666" stroke-width="0.45"/>
<circle cx="627.80" cy="710.20" r="4.80" fill="#2DA84E" stroke="#666" stroke-width="0.45"/>
<line x1="395.50" y1="588.10" x2="395.50" y2="781.00" stroke="#4a4a4a" stroke-width="1.0" />
<line x1="395.00" y1="780.50" x2="635.80" y2="780.50" stroke="#4a4a4a" stroke-width="1.0" />
<line x1="395.50" y1="764.40" x2="397.50" y2="764.40" stroke="#333" stroke-width="0.7" />
<text x="392.20" y="766.90" font-size="8.6" text-anchor="end" fill="#1a1a1a" stroke="#1a1a1a" stroke-width="0.22" >0</text>
<line x1="395.50" y1="724.38" x2="397.50" y2="724.38" stroke="#333" stroke-width="0.7" />
<text x="392.20" y="726.88" font-size="8.6" text-anchor="end" fill="#1a1a1a" stroke="#1a1a1a" stroke-width="0.22" >25</text>
<line x1="395.50" y1="684.35" x2="397.50" y2="684.35" stroke="#333" stroke-width="0.7" />
<text x="392.20" y="686.85" font-size="8.6" text-anchor="end" fill="#1a1a1a" stroke="#1a1a1a" stroke-width="0.22" >50</text>
<line x1="395.50" y1="644.32" x2="397.50" y2="644.32" stroke="#333" stroke-width="0.7" />
<text x="392.20" y="646.82" font-size="8.6" text-anchor="end" fill="#1a1a1a" stroke="#1a1a1a" stroke-width="0.22" >75</text>
<line x1="395.50" y1="604.30" x2="397.50" y2="604.30" stroke="#333" stroke-width="0.7" />
<text x="392.20" y="606.80" font-size="8.6" text-anchor="end" fill="#1a1a1a" stroke="#1a1a1a" stroke-width="0.22" >100</text>
<line x1="403.40" y1="780.50" x2="403.40" y2="778.50" stroke="#333" stroke-width="0.7" />
<text x="403.40" y="790.00" font-size="8.6" text-anchor="middle" fill="#1a1a1a" stroke="#1a1a1a" stroke-width="0.22" >Vehicle</text>
<line x1="449.70" y1="780.50" x2="449.70" y2="778.50" stroke="#333" stroke-width="0.7" />
<text x="449.70" y="790.00" font-size="8.6" text-anchor="middle" fill="#1a1a1a" stroke="#1a1a1a" stroke-width="0.22" >UAV(large)</text>
<line x1="496.40" y1="780.50" x2="496.40" y2="778.50" stroke="#333" stroke-width="0.7" />
<text x="496.40" y="790.00" font-size="8.6" text-anchor="middle" fill="#1a1a1a" stroke="#1a1a1a" stroke-width="0.22" >UAV(small)</text>
<line x1="543.00" y1="780.50" x2="543.00" y2="778.50" stroke="#333" stroke-width="0.7" />
<text x="543.00" y="790.00" font-size="8.6" text-anchor="middle" fill="#1a1a1a" stroke="#1a1a1a" stroke-width="0.22" >Table Tennis</text>
<line x1="589.30" y1="780.50" x2="589.30" y2="778.50" stroke="#333" stroke-width="0.7" />
<text x="589.30" y="790.00" font-size="8.6" text-anchor="middle" fill="#1a1a1a" stroke="#1a1a1a" stroke-width="0.22" >Grasp</text>
<line x1="635.80" y1="780.50" x2="635.80" y2="778.50" stroke="#333" stroke-width="0.7" />
<text x="515.80" y="803.20" font-size="8.6" text-anchor="middle" fill="#1a1a1a" stroke="#1a1a1a" stroke-width="0.22" >Scenario</text>
<text x="0" y="0" font-size="8.6" text-anchor="middle" fill="#1a1a1a" stroke="#1a1a1a" stroke-width="0.22" transform="translate(375.9,684) rotate(-90)">Accuracy (%)</text>
<rect x="410.10" y="597.30" width="22.80" height="18.40" fill="none" stroke="#F07878" stroke-width="0.7" stroke-dasharray="2.4,1.6"/>
<line x1="423.80" y1="615.70" x2="433.40" y2="623.40" stroke="#F07878" stroke-width="0.7" />
<text x="452.00" y="632.70" font-size="9.5" text-anchor="middle" fill="#1a1a1a" stroke="#1a1a1a" stroke-width="0.22" >Segmentation</text>
<text x="452.00" y="644.20" font-size="9.5" text-anchor="middle" fill="#1a1a1a" stroke="#1a1a1a" stroke-width="0.22" >(Vehicle)</text>
<rect x="395.40" y="639.30" width="23.10" height="17.20" fill="none" stroke="#F07878" stroke-width="0.7" stroke-dasharray="2.4,1.6"/>
<line x1="407.20" y1="656.50" x2="417.70" y2="667.30" stroke="#F07878" stroke-width="0.7" />
<text x="401.90" y="673.60" font-size="9.5" text-anchor="start" fill="#1a1a1a" stroke="#1a1a1a" stroke-width="0.22" >Prediction (Vehicle)</text>
<rect x="426.00" y="709.50" width="22.80" height="43.60" fill="none" stroke="#F07878" stroke-width="0.7" stroke-dasharray="2.4,1.6"/>
<line x1="448.80" y1="738.00" x2="457.10" y2="751.20" stroke="#F07878" stroke-width="0.7" />
<text x="457.10" y="758.80" font-size="9.5" text-anchor="start" fill="#1a1a1a" stroke="#1a1a1a" stroke-width="0.22" >Tracking (Vehicle)</text>
<text x="633.10" y="600.10" font-size="8.6" text-anchor="start" fill="#1a1a1a" stroke="#1a1a1a" stroke-width="0.22" >Time (s)</text>
<circle cx="648.7" cy="621.10" r="14.10" fill="#94D2F2" stroke="#666" stroke-width="0.45"/>
<text x="665.90" y="624.20" font-size="8.7" text-anchor="start" fill="#1a1a1a" stroke="#1a1a1a" stroke-width="0.22" >0.90</text>
<circle cx="648.7" cy="655.20" r="12.00" fill="#94D2F2" stroke="#666" stroke-width="0.45"/>
<text x="665.90" y="658.30" font-size="8.7" text-anchor="start" fill="#1a1a1a" stroke="#1a1a1a" stroke-width="0.22" >0.65</text>
<circle cx="648.7" cy="684.40" r="9.00" fill="#94D2F2" stroke="#666" stroke-width="0.45"/>
<text x="665.90" y="687.50" font-size="8.7" text-anchor="start" fill="#1a1a1a" stroke="#1a1a1a" stroke-width="0.22" >0.40</text>
<circle cx="648.7" cy="707.80" r="5.90" fill="#94D2F2" stroke="#666" stroke-width="0.45"/>
<text x="665.90" y="710.90" font-size="8.7" text-anchor="start" fill="#1a1a1a" stroke="#1a1a1a" stroke-width="0.22" >0.15</text>
<rect x="640.30" y="699.60" width="45.70" height="15.90" fill="none" stroke="#F07878" stroke-width="0.7" stroke-dasharray="2.4,1.6"/>
<text x="664.80" y="727.00" font-size="10" text-anchor="middle" fill="#E8252D" stroke="#E8252D" stroke-width="0.22" font-style="italic" >Human</text>
<text x="664.80" y="741.20" font-size="10" text-anchor="middle" fill="#E8252D" stroke="#E8252D" stroke-width="0.22" font-style="italic" >level</text>
</svg>
</body></html>
